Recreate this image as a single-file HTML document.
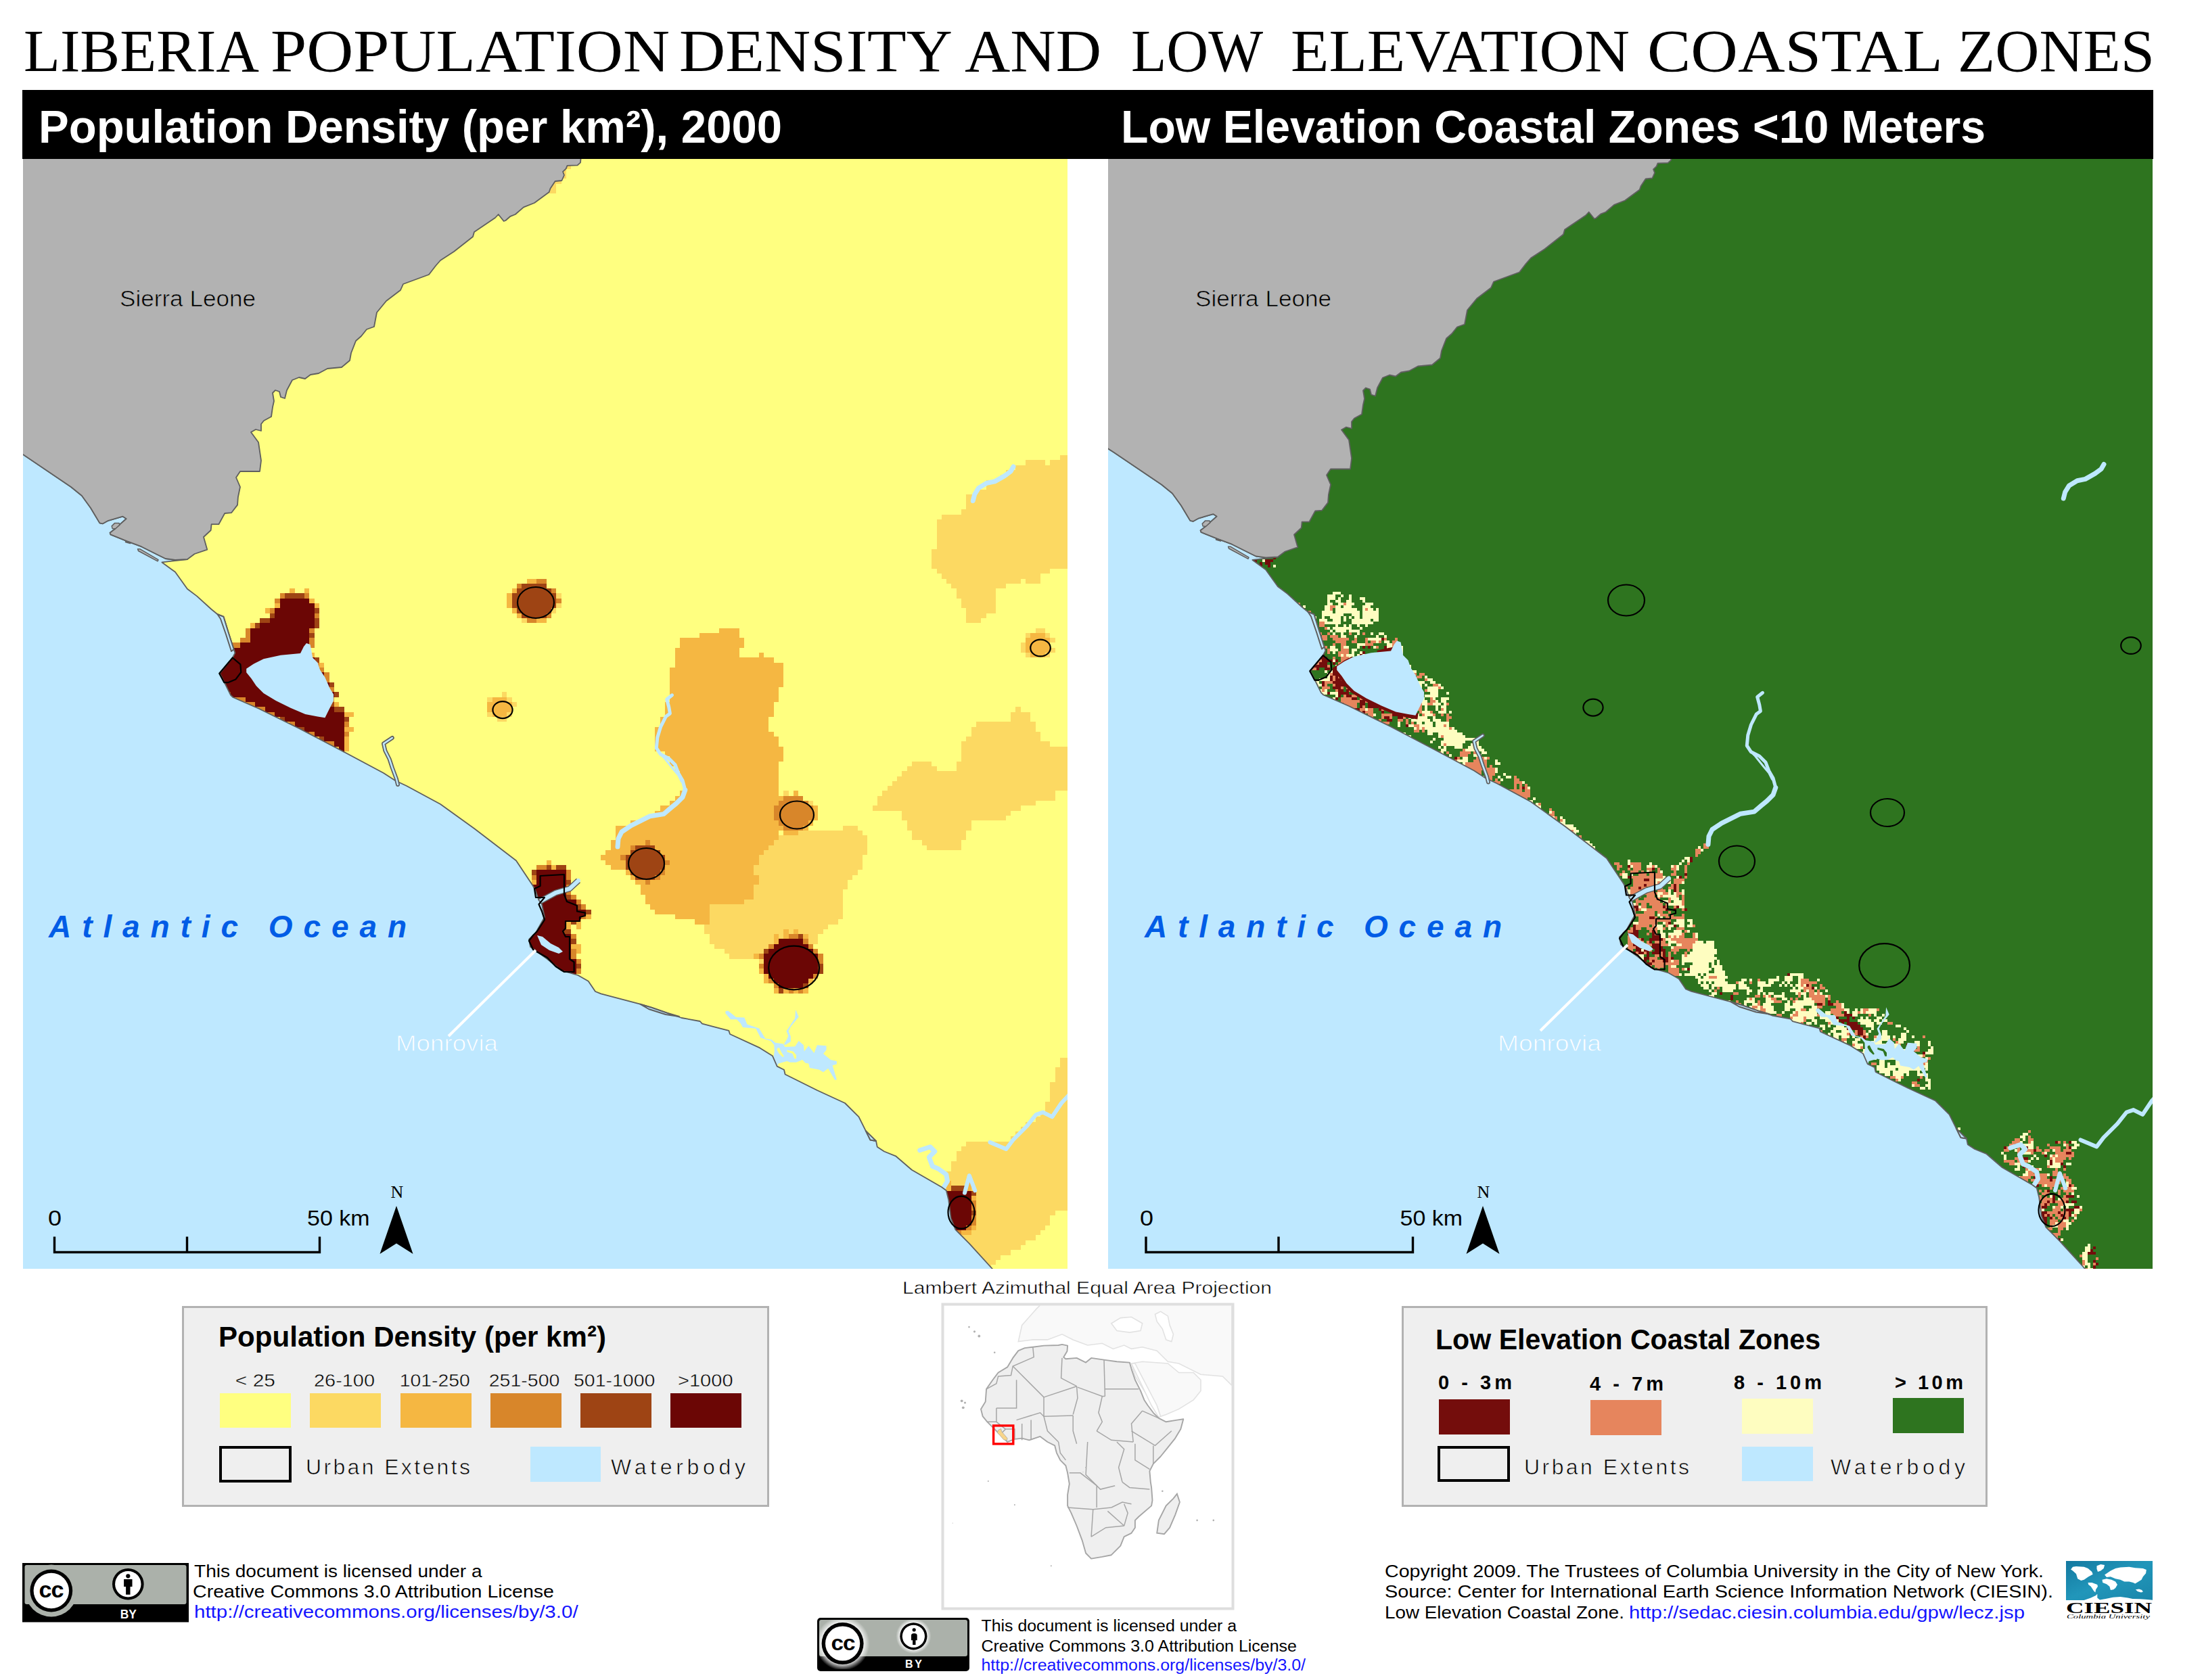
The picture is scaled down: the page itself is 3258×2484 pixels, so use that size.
<!DOCTYPE html><html><head><meta charset="utf-8"><style>html,body{margin:0;padding:0;background:#fff;overflow:hidden;width:3258px;height:2484px;}svg{display:block}</style></head><body>
<svg width="3258" height="2484" viewBox="0 0 3258 2484">
<rect width="3258" height="2484" fill="#fff"/>
<text x="35.0" y="105.0" font-family="Liberation Serif" font-size="88" font-weight="normal" font-style="normal" fill="#000" textLength="348.0" lengthAdjust="spacingAndGlyphs">LIBERIA</text>
<text x="400.0" y="105.0" font-family="Liberation Serif" font-size="88" font-weight="normal" font-style="normal" fill="#000" textLength="590.0" lengthAdjust="spacingAndGlyphs">POPULATION</text>
<text x="1004.0" y="105.0" font-family="Liberation Serif" font-size="88" font-weight="normal" font-style="normal" fill="#000" textLength="404.0" lengthAdjust="spacingAndGlyphs">DENSITY</text>
<text x="1426.0" y="105.0" font-family="Liberation Serif" font-size="88" font-weight="normal" font-style="normal" fill="#000" textLength="202.0" lengthAdjust="spacingAndGlyphs">AND</text>
<text x="1672.0" y="105.0" font-family="Liberation Serif" font-size="88" font-weight="normal" font-style="normal" fill="#000" textLength="195.0" lengthAdjust="spacingAndGlyphs">LOW</text>
<text x="1908.0" y="105.0" font-family="Liberation Serif" font-size="88" font-weight="normal" font-style="normal" fill="#000" textLength="501.0" lengthAdjust="spacingAndGlyphs">ELEVATION</text>
<text x="2435.0" y="105.0" font-family="Liberation Serif" font-size="88" font-weight="normal" font-style="normal" fill="#000" textLength="437.0" lengthAdjust="spacingAndGlyphs">COASTAL</text>
<text x="2894.0" y="105.0" font-family="Liberation Serif" font-size="88" font-weight="normal" font-style="normal" fill="#000" textLength="291.0" lengthAdjust="spacingAndGlyphs">ZONES</text>
<rect x="33" y="133" width="3150" height="102" fill="#000"/>
<text x="57.0" y="210.5" font-family="Liberation Sans" font-size="68" font-weight="bold" font-style="normal" fill="#fff" textLength="1099.0" lengthAdjust="spacingAndGlyphs">Population Density (per km²), 2000</text>
<text x="1657.0" y="210.5" font-family="Liberation Sans" font-size="68" font-weight="bold" font-style="normal" fill="#fff" textLength="1278.0" lengthAdjust="spacingAndGlyphs">Low Elevation Coastal Zones &lt;10 Meters</text>
<defs><clipPath id="mc"><rect x="0" y="0" width="1544" height="1641"/></clipPath></defs>
<g transform="translate(34,235)" clip-path="url(#mc)">
<rect x="0" y="0" width="1544" height="1641" fill="#ffff80"/>
<path fill="#fcd962" shape-rendering="crispEdges" d="M795.7 7.3H810.3V14.6H795.7zM788.4 14.6H803.0V21.9H788.4zM788.4 21.9H803.0V29.2H788.4zM781.1 29.2H795.7V36.5H781.1zM781.1 36.5H788.4V43.8H781.1zM773.8 43.8H788.4V51.1H773.8zM1533.0 438.0H1554.9V445.3H1533.0zM1481.9 445.3H1511.1V452.6H1481.9zM1518.4 445.3H1554.9V452.6H1518.4zM1467.3 452.6H1554.9V459.9H1467.3zM1452.7 459.9H1554.9V467.2H1452.7zM1445.4 467.2H1554.9V474.5H1445.4zM1423.5 474.5H1554.9V481.8H1423.5zM1423.5 481.8H1554.9V489.1H1423.5zM1408.9 489.1H1554.9V496.4H1408.9zM1394.3 496.4H1554.9V503.7H1394.3zM1394.3 503.7H1554.9V511.0H1394.3zM1394.3 511.0H1554.9V518.3H1394.3zM1387.0 518.3H1554.9V525.6H1387.0zM1357.8 525.6H1554.9V532.9H1357.8zM1350.5 532.9H1554.9V540.2H1350.5zM1350.5 540.2H1554.9V547.5H1350.5zM1350.5 547.5H1554.9V554.8H1350.5zM1350.5 554.8H1554.9V562.1H1350.5zM1350.5 562.1H1554.9V569.4H1350.5zM1350.5 569.4H1554.9V576.7H1350.5zM1343.2 576.7H1554.9V584.0H1343.2zM1343.2 584.0H1554.9V591.3H1343.2zM1343.2 591.3H1554.9V598.6H1343.2zM1343.2 598.6H1554.9V605.9H1343.2zM1350.5 605.9H1518.4V613.2H1350.5zM1357.8 613.2H1503.8V620.5H1357.8zM1365.1 620.5H1474.6V627.8H1365.1zM1481.9 620.5H1503.8V627.8H1481.9zM1372.4 627.8H1452.7V635.1H1372.4zM1379.7 635.1H1438.1V642.4H1379.7zM788.4 642.4H795.7V649.7H788.4zM1379.7 642.4H1438.1V649.7H1379.7zM1387.0 649.7H1438.1V657.0H1387.0zM788.4 657.0H795.7V664.3H788.4zM1387.0 657.0H1438.1V664.3H1387.0zM781.1 664.3H788.4V671.6H781.1zM1394.3 664.3H1438.1V671.6H1394.3zM1394.3 671.6H1423.5V678.9H1394.3zM737.3 678.9H744.6V686.2H737.3zM1394.3 678.9H1416.2V686.2H1394.3zM1496.5 693.5H1511.1V700.8H1496.5zM1481.9 700.8H1489.2V708.1H1481.9zM1511.1 700.8H1518.4V708.1H1511.1zM1518.4 708.1H1525.7V715.4H1518.4zM1474.6 715.4H1481.9V722.7H1474.6zM1474.6 722.7H1481.9V730.0H1474.6zM1518.4 722.7H1525.7V730.0H1518.4zM1481.9 730.0H1489.2V737.3H1481.9zM1511.1 730.0H1518.4V737.3H1511.1zM284.7 766.5H292.0V773.8H284.7zM708.1 788.4H715.4V795.7H708.1zM306.6 795.7H313.9V803.0H306.6zM686.2 795.7H693.5V803.0H686.2zM715.4 795.7H722.7V803.0H715.4zM722.7 803.0H730.0V810.3H722.7zM1467.3 810.3H1474.6V817.6H1467.3zM686.2 817.6H693.5V824.9H686.2zM715.4 817.6H722.7V824.9H715.4zM1460.0 817.6H1489.2V824.9H1460.0zM700.8 824.9H715.4V832.2H700.8zM1460.0 824.9H1489.2V832.2H1460.0zM1408.9 832.2H1496.5V839.5H1408.9zM1401.6 839.5H1496.5V846.8H1401.6zM1401.6 846.8H1503.8V854.1H1401.6zM1394.3 854.1H1503.8V861.4H1394.3zM1387.0 861.4H1518.4V868.7H1387.0zM1387.0 868.7H1554.9V876.0H1387.0zM1387.0 876.0H1554.9V883.3H1387.0zM1387.0 883.3H1554.9V890.6H1387.0zM1314.0 890.6H1343.2V897.9H1314.0zM1379.7 890.6H1554.9V897.9H1379.7zM1306.7 897.9H1350.5V905.2H1306.7zM1379.7 897.9H1554.9V905.2H1379.7zM1299.4 905.2H1554.9V912.5H1299.4zM1292.1 912.5H1554.9V919.8H1292.1zM1284.8 919.8H1554.9V927.1H1284.8zM1277.5 927.1H1554.9V934.4H1277.5zM1124.2 934.4H1131.5V941.7H1124.2zM1270.2 934.4H1525.7V941.7H1270.2zM1262.9 941.7H1525.7V949.0H1262.9zM1160.7 949.0H1168.0V956.3H1160.7zM1262.9 949.0H1496.5V956.3H1262.9zM1255.6 956.3H1474.6V963.6H1255.6zM1299.4 963.6H1460.0V970.9H1299.4zM1299.4 970.9H1452.7V978.2H1299.4zM1306.7 978.2H1401.6V985.5H1306.7zM1211.8 985.5H1233.7V992.8H1211.8zM1306.7 985.5H1401.6V992.8H1306.7zM1146.1 992.8H1241.0V1000.1H1146.1zM1314.0 992.8H1394.3V1000.1H1314.0zM1116.9 1000.1H1248.3V1007.4H1116.9zM1314.0 1000.1H1394.3V1007.4H1314.0zM1109.6 1007.4H1248.3V1014.7H1109.6zM1328.6 1007.4H1387.0V1014.7H1328.6zM1102.3 1014.7H1248.3V1022.0H1102.3zM1335.9 1014.7H1387.0V1022.0H1335.9zM1095.0 1022.0H1248.3V1029.3H1095.0zM1087.7 1029.3H1241.0V1036.6H1087.7zM1087.7 1036.6H1241.0V1043.9H1087.7zM1080.4 1043.9H1241.0V1051.2H1080.4zM1080.4 1051.2H1233.7V1058.5H1080.4zM1087.7 1058.5H1226.4V1065.8H1087.7zM1087.7 1065.8H1219.1V1073.1H1087.7zM1080.4 1073.1H1219.1V1080.4H1080.4zM1080.4 1080.4H1211.8V1087.7H1080.4zM1080.4 1087.7H1211.8V1095.0H1080.4zM1065.8 1095.0H1211.8V1102.3H1065.8zM1014.7 1102.3H1211.8V1109.6H1014.7zM1014.7 1109.6H1211.8V1116.9H1014.7zM759.2 1116.9H766.5V1124.2H759.2zM1014.7 1116.9H1211.8V1124.2H1014.7zM1014.7 1124.2H1204.5V1131.5H1014.7zM1007.4 1131.5H1189.9V1138.8H1007.4zM1007.4 1138.8H1124.2V1146.1H1007.4zM1131.5 1138.8H1138.8V1146.1H1131.5zM1146.1 1138.8H1182.6V1146.1H1146.1zM1014.7 1146.1H1109.6V1153.4H1014.7zM1116.9 1146.1H1124.2V1153.4H1116.9zM1160.7 1146.1H1175.3V1153.4H1160.7zM1014.7 1153.4H1109.6V1160.7H1014.7zM1160.7 1153.4H1175.3V1160.7H1160.7zM1022.0 1160.7H1102.3V1168.0H1022.0zM1036.6 1168.0H1095.0V1175.3H1036.6zM1043.9 1175.3H1080.4V1182.6H1043.9zM1087.7 1182.6H1095.0V1189.9H1087.7zM781.1 1197.2H788.4V1204.5H781.1zM810.3 1204.5H817.6V1211.8H810.3zM1533.0 1328.6H1554.9V1335.9H1533.0zM1533.0 1335.9H1554.9V1343.2H1533.0zM1525.7 1343.2H1554.9V1350.5H1525.7zM1525.7 1350.5H1554.9V1357.8H1525.7zM1525.7 1357.8H1554.9V1365.1H1525.7zM1518.4 1365.1H1554.9V1372.4H1518.4zM1518.4 1372.4H1554.9V1379.7H1518.4zM1518.4 1379.7H1554.9V1387.0H1518.4zM1518.4 1387.0H1554.9V1394.3H1518.4zM1511.1 1394.3H1554.9V1401.6H1511.1zM1511.1 1401.6H1554.9V1408.9H1511.1zM1503.8 1408.9H1554.9V1416.2H1503.8zM1496.5 1416.2H1554.9V1423.5H1496.5zM1481.9 1423.5H1554.9V1430.8H1481.9zM1474.6 1430.8H1554.9V1438.1H1474.6zM1467.3 1438.1H1554.9V1445.4H1467.3zM1460.0 1445.4H1554.9V1452.7H1460.0zM1394.3 1452.7H1554.9V1460.0H1394.3zM1387.0 1460.0H1554.9V1467.3H1387.0zM1379.7 1467.3H1554.9V1474.6H1379.7zM1379.7 1474.6H1554.9V1481.9H1379.7zM1372.4 1481.9H1554.9V1489.2H1372.4zM1372.4 1489.2H1554.9V1496.5H1372.4zM1365.1 1496.5H1554.9V1503.8H1365.1zM1365.1 1503.8H1554.9V1511.1H1365.1zM1372.4 1511.1H1394.3V1518.4H1372.4zM1401.6 1511.1H1554.9V1518.4H1401.6zM1357.8 1518.4H1365.1V1525.7H1357.8zM1401.6 1518.4H1554.9V1525.7H1401.6zM1408.9 1525.7H1554.9V1533.0H1408.9zM1408.9 1533.0H1554.9V1540.3H1408.9zM1408.9 1540.3H1554.9V1547.6H1408.9zM1408.9 1547.6H1554.9V1554.9H1408.9zM1408.9 1554.9H1525.7V1562.2H1408.9zM1408.9 1562.2H1518.4V1569.5H1408.9zM1408.9 1569.5H1518.4V1576.8H1408.9zM1408.9 1576.8H1511.1V1584.1H1408.9zM1401.6 1584.1H1503.8V1591.4H1401.6zM1387.0 1591.4H1496.5V1598.7H1387.0zM1394.3 1598.7H1481.9V1606.0H1394.3zM1401.6 1606.0H1474.6V1613.3H1401.6zM1408.9 1613.3H1460.0V1620.6H1408.9zM1408.9 1620.6H1445.4V1627.9H1408.9zM1416.2 1627.9H1438.1V1635.2H1416.2zM1423.5 1635.2H1430.8V1642.5H1423.5z"/>
<path fill="#f5b742" shape-rendering="crispEdges" d="M744.6 620.5H759.2V627.8H744.6zM394.2 635.1H401.5V642.4H394.2zM416.1 635.1H423.4V642.4H416.1zM722.7 635.1H730.0V642.4H722.7zM715.4 642.4H722.7V649.7H715.4zM423.4 649.7H430.7V657.0H423.4zM715.4 649.7H722.7V657.0H715.4zM372.3 657.0H379.6V664.3H372.3zM430.7 657.0H438.0V664.3H430.7zM715.4 657.0H722.7V664.3H715.4zM357.7 664.3H365.0V671.6H357.7zM722.7 664.3H730.0V671.6H722.7zM730.0 671.6H737.3V678.9H730.0zM759.2 678.9H773.8V686.2H759.2zM335.8 686.2H343.1V693.5H335.8zM1029.3 693.5H1058.5V700.8H1029.3zM1000.1 700.8H1058.5V708.1H1000.1zM1489.2 700.8H1511.1V708.1H1489.2zM970.9 708.1H1065.8V715.4H970.9zM1481.9 708.1H1518.4V715.4H1481.9zM292.0 715.4H299.3V722.7H292.0zM970.9 715.4H1065.8V722.7H970.9zM1481.9 715.4H1518.4V722.7H1481.9zM416.1 722.7H423.4V730.0H416.1zM963.6 722.7H1058.5V730.0H963.6zM1481.9 722.7H1518.4V730.0H1481.9zM423.4 730.0H430.7V737.3H423.4zM963.6 730.0H1058.5V737.3H963.6zM1087.7 730.0H1095.0V737.3H1087.7zM1489.2 730.0H1511.1V737.3H1489.2zM963.6 737.3H1109.6V744.6H963.6zM270.1 744.6H277.4V751.9H270.1zM438.0 744.6H445.3V751.9H438.0zM963.6 744.6H1124.2V751.9H963.6zM956.3 751.9H1124.2V759.2H956.3zM956.3 759.2H1124.2V766.5H956.3zM956.3 766.5H1124.2V773.8H956.3zM956.3 773.8H1124.2V781.1H956.3zM956.3 781.1H1116.9V788.4H956.3zM956.3 788.4H1116.9V795.7H956.3zM693.5 795.7H715.4V803.0H693.5zM956.3 795.7H1116.9V803.0H956.3zM313.9 803.0H321.2V810.3H313.9zM459.9 803.0H467.2V810.3H459.9zM686.2 803.0H722.7V810.3H686.2zM949.0 803.0H1109.6V810.3H949.0zM328.5 810.3H343.1V817.6H328.5zM686.2 810.3H722.7V817.6H686.2zM949.0 810.3H1109.6V817.6H949.0zM474.5 817.6H489.1V824.9H474.5zM693.5 817.6H715.4V824.9H693.5zM949.0 817.6H1109.6V824.9H949.0zM372.3 824.9H379.6V832.2H372.3zM941.7 824.9H1102.3V832.2H941.7zM386.9 832.2H394.2V839.5H386.9zM941.7 832.2H1102.3V839.5H941.7zM386.9 839.5H401.5V846.8H386.9zM474.5 839.5H489.1V846.8H474.5zM934.4 839.5H1102.3V846.8H934.4zM934.4 846.8H1109.6V854.1H934.4zM430.7 854.1H438.0V861.4H430.7zM474.5 854.1H481.8V861.4H474.5zM934.4 854.1H1116.9V861.4H934.4zM430.7 861.4H438.0V868.7H430.7zM474.5 861.4H481.8V868.7H474.5zM934.4 861.4H1116.9V868.7H934.4zM459.9 868.7H467.2V876.0H459.9zM474.5 868.7H481.8V876.0H474.5zM934.4 868.7H1124.2V876.0H934.4zM459.9 876.0H467.2V883.3H459.9zM949.0 876.0H1124.2V883.3H949.0zM467.2 883.3H474.5V890.6H467.2zM956.3 883.3H1124.2V890.6H956.3zM956.3 890.6H1116.9V897.9H956.3zM963.6 897.9H1116.9V905.2H963.6zM970.9 905.2H1116.9V912.5H970.9zM970.9 912.5H1116.9V919.8H970.9zM978.2 919.8H1116.9V927.1H978.2zM978.2 927.1H1116.9V934.4H978.2zM970.9 934.4H1116.9V941.7H970.9zM1138.8 934.4H1146.1V941.7H1138.8zM963.6 941.7H1124.2V949.0H963.6zM956.3 949.0H1116.9V956.3H956.3zM941.7 956.3H1109.6V963.6H941.7zM1168.0 956.3H1175.3V963.6H1168.0zM934.4 963.6H1109.6V970.9H934.4zM1168.0 963.6H1175.3V970.9H1168.0zM919.8 970.9H1109.6V978.2H919.8zM1168.0 970.9H1175.3V978.2H1168.0zM897.9 978.2H1116.9V985.5H897.9zM1160.7 978.2H1168.0V985.5H1160.7zM876.0 985.5H1124.2V992.8H876.0zM1153.4 985.5H1160.7V992.8H1153.4zM876.0 992.8H1116.9V1000.1H876.0zM1124.2 992.8H1146.1V1000.1H1124.2zM876.0 1000.1H1116.9V1007.4H876.0zM868.7 1007.4H919.8V1014.7H868.7zM927.1 1007.4H1109.6V1014.7H927.1zM868.7 1014.7H897.9V1022.0H868.7zM934.4 1014.7H1102.3V1022.0H934.4zM861.4 1022.0H897.9V1029.3H861.4zM941.7 1022.0H1095.0V1029.3H941.7zM854.1 1029.3H883.3V1036.6H854.1zM949.0 1029.3H1087.7V1036.6H949.0zM773.8 1036.6H781.1V1043.9H773.8zM861.4 1036.6H890.6V1043.9H861.4zM956.3 1036.6H1087.7V1043.9H956.3zM781.1 1043.9H788.4V1051.2H781.1zM868.7 1043.9H890.6V1051.2H868.7zM949.0 1043.9H1080.4V1051.2H949.0zM890.6 1051.2H897.9V1058.5H890.6zM949.0 1051.2H1080.4V1058.5H949.0zM897.9 1058.5H905.2V1065.8H897.9zM941.7 1058.5H1087.7V1065.8H941.7zM751.9 1065.8H759.2V1073.1H751.9zM905.2 1065.8H919.8V1073.1H905.2zM927.1 1065.8H1087.7V1073.1H927.1zM912.5 1073.1H1080.4V1080.4H912.5zM912.5 1080.4H1080.4V1087.7H912.5zM737.3 1087.7H751.9V1095.0H737.3zM919.8 1087.7H1080.4V1095.0H919.8zM737.3 1095.0H744.6V1102.3H737.3zM919.8 1095.0H1065.8V1102.3H919.8zM927.1 1102.3H1014.7V1109.6H927.1zM934.4 1109.6H1014.7V1116.9H934.4zM832.2 1116.9H839.5V1124.2H832.2zM963.6 1116.9H1014.7V1124.2H963.6zM744.6 1124.2H751.9V1131.5H744.6zM803.0 1124.2H810.3V1131.5H803.0zM817.6 1124.2H824.9V1131.5H817.6zM992.8 1124.2H1014.7V1131.5H992.8zM803.0 1131.5H810.3V1138.8H803.0zM817.6 1131.5H824.9V1138.8H817.6zM1124.2 1138.8H1131.5V1146.1H1124.2zM1138.8 1138.8H1146.1V1146.1H1138.8zM1109.6 1146.1H1116.9V1153.4H1109.6zM1124.2 1146.1H1131.5V1153.4H1124.2zM1153.4 1146.1H1160.7V1153.4H1153.4zM1109.6 1153.4H1116.9V1160.7H1109.6zM810.3 1160.7H824.9V1168.0H810.3zM817.6 1168.0H824.9V1175.3H817.6zM1080.4 1175.3H1087.7V1182.6H1080.4zM1087.7 1197.2H1095.0V1204.5H1087.7zM795.7 1204.5H803.0V1211.8H795.7zM1095.0 1204.5H1102.3V1211.8H1095.0zM1095.0 1211.8H1102.3V1219.1H1095.0zM1160.7 1211.8H1168.0V1219.1H1160.7zM1109.6 1226.4H1116.9V1233.7H1109.6zM1124.2 1226.4H1131.5V1233.7H1124.2zM1138.8 1226.4H1146.1V1233.7H1138.8zM1153.4 1226.4H1160.7V1233.7H1153.4zM1365.1 1511.1H1372.4V1518.4H1365.1zM1394.3 1511.1H1401.6V1518.4H1394.3zM1365.1 1518.4H1372.4V1525.7H1365.1zM1394.3 1518.4H1401.6V1525.7H1394.3zM1350.5 1525.7H1357.8V1533.0H1350.5zM1401.6 1533.0H1408.9V1540.3H1401.6zM1350.5 1554.9H1357.8V1562.2H1350.5zM1357.8 1569.5H1365.1V1576.8H1357.8zM1401.6 1576.8H1408.9V1584.1H1401.6zM1387.0 1584.1H1401.6V1591.4H1387.0zM1379.7 1591.4H1387.0V1598.7H1379.7z"/>
<path fill="#d8862a" shape-rendering="crispEdges" d="M759.2 620.5H773.8V627.8H759.2zM730.0 627.8H737.3V635.1H730.0zM781.1 635.1H788.4V642.4H781.1zM379.6 642.4H386.9V649.7H379.6zM416.1 642.4H423.4V649.7H416.1zM372.3 649.7H379.6V657.0H372.3zM788.4 649.7H795.7V657.0H788.4zM365.0 664.3H372.3V671.6H365.0zM430.7 671.6H438.0V678.9H430.7zM773.8 671.6H781.1V678.9H773.8zM744.6 678.9H759.2V686.2H744.6zM328.5 693.5H335.8V700.8H328.5zM423.4 693.5H430.7V700.8H423.4zM328.5 700.8H335.8V708.1H328.5zM321.2 708.1H335.8V715.4H321.2zM423.4 708.1H430.7V715.4H423.4zM306.6 715.4H321.2V722.7H306.6zM423.4 715.4H430.7V722.7H423.4zM284.7 730.0H292.0V737.3H284.7zM430.7 744.6H438.0V751.9H430.7zM277.4 751.9H284.7V759.2H277.4zM438.0 751.9H445.3V759.2H438.0zM445.3 759.2H452.6V766.5H445.3zM445.3 766.5H452.6V773.8H445.3zM292.0 773.8H299.3V781.1H292.0zM292.0 781.1H299.3V788.4H292.0zM452.6 781.1H459.9V788.4H452.6zM313.9 795.7H328.5V803.0H313.9zM452.6 795.7H459.9V803.0H452.6zM328.5 803.0H343.1V810.3H328.5zM343.1 810.3H357.7V817.6H343.1zM357.7 817.6H372.3V824.9H357.7zM394.2 832.2H401.5V839.5H394.2zM474.5 832.2H481.8V839.5H474.5zM423.4 846.8H430.7V854.1H423.4zM474.5 846.8H481.8V854.1H474.5zM445.3 861.4H459.9V868.7H445.3zM467.2 876.0H474.5V883.3H467.2zM1124.2 941.7H1153.4V949.0H1124.2zM1116.9 949.0H1160.7V956.3H1116.9zM1109.6 956.3H1168.0V963.6H1109.6zM1109.6 963.6H1168.0V970.9H1109.6zM1109.6 970.9H1168.0V978.2H1109.6zM1116.9 978.2H1160.7V985.5H1116.9zM1124.2 985.5H1153.4V992.8H1124.2zM919.8 1007.4H927.1V1014.7H919.8zM897.9 1014.7H905.2V1022.0H897.9zM883.3 1029.3H890.6V1036.6H883.3zM949.0 1036.6H956.3V1043.9H949.0zM759.2 1043.9H773.8V1051.2H759.2zM803.0 1051.2H810.3V1058.5H803.0zM941.7 1051.2H949.0V1058.5H941.7zM751.9 1058.5H759.2V1065.8H751.9zM803.0 1058.5H810.3V1065.8H803.0zM934.4 1058.5H941.7V1065.8H934.4zM919.8 1065.8H927.1V1073.1H919.8zM744.6 1073.1H751.9V1080.4H744.6zM803.0 1073.1H810.3V1080.4H803.0zM744.6 1080.4H751.9V1087.7H744.6zM803.0 1080.4H810.3V1087.7H803.0zM810.3 1087.7H817.6V1095.0H810.3zM817.6 1095.0H824.9V1102.3H817.6zM751.9 1102.3H759.2V1109.6H751.9zM824.9 1102.3H832.2V1109.6H824.9zM824.9 1116.9H832.2V1124.2H824.9zM744.6 1131.5H751.9V1138.8H744.6zM737.3 1138.8H744.6V1146.1H737.3zM730.0 1146.1H737.3V1153.4H730.0zM810.3 1146.1H817.6V1153.4H810.3zM1131.5 1146.1H1146.1V1153.4H1131.5zM1153.4 1153.4H1160.7V1160.7H1153.4zM1102.3 1160.7H1109.6V1168.0H1102.3zM1160.7 1160.7H1168.0V1168.0H1160.7zM744.6 1168.0H751.9V1175.3H744.6zM810.3 1168.0H817.6V1175.3H810.3zM1168.0 1168.0H1175.3V1175.3H1168.0zM810.3 1175.3H817.6V1182.6H810.3zM1087.7 1175.3H1095.0V1182.6H1087.7zM1175.3 1175.3H1182.6V1182.6H1175.3zM766.5 1182.6H773.8V1189.9H766.5zM817.6 1182.6H824.9V1189.9H817.6zM1175.3 1182.6H1182.6V1189.9H1175.3zM773.8 1189.9H781.1V1197.2H773.8zM1087.7 1189.9H1095.0V1197.2H1087.7zM788.4 1197.2H795.7V1204.5H788.4zM817.6 1197.2H824.9V1204.5H817.6zM1168.0 1204.5H1175.3V1211.8H1168.0zM1102.3 1211.8H1109.6V1219.1H1102.3zM1109.6 1219.1H1116.9V1226.4H1109.6zM1131.5 1226.4H1138.8V1233.7H1131.5zM1146.1 1226.4H1153.4V1233.7H1146.1zM1357.8 1525.7H1365.1V1533.0H1357.8zM1401.6 1540.3H1408.9V1547.6H1401.6zM1350.5 1547.6H1357.8V1554.9H1350.5zM1401.6 1547.6H1408.9V1554.9H1401.6zM1357.8 1562.2H1365.1V1569.5H1357.8zM1401.6 1562.2H1408.9V1569.5H1401.6zM1401.6 1569.5H1408.9V1576.8H1401.6zM1365.1 1576.8H1372.4V1584.1H1365.1zM1394.3 1576.8H1401.6V1584.1H1394.3zM1372.4 1584.1H1387.0V1591.4H1372.4z"/>
<path fill="#9e4414" shape-rendering="crispEdges" d="M737.3 627.8H773.8V635.1H737.3zM730.0 635.1H781.1V642.4H730.0zM386.9 642.4H416.1V649.7H386.9zM722.7 642.4H788.4V649.7H722.7zM722.7 649.7H788.4V657.0H722.7zM722.7 657.0H788.4V664.3H722.7zM430.7 664.3H438.0V671.6H430.7zM730.0 664.3H781.1V671.6H730.0zM365.0 671.6H372.3V678.9H365.0zM737.3 671.6H773.8V678.9H737.3zM350.4 678.9H365.0V686.2H350.4zM430.7 678.9H438.0V686.2H430.7zM343.1 686.2H350.4V693.5H343.1zM430.7 686.2H438.0V693.5H430.7zM423.4 700.8H430.7V708.1H423.4zM292.0 722.7H306.6V730.0H292.0zM284.7 737.3H292.0V744.6H284.7zM430.7 737.3H438.0V744.6H430.7zM277.4 744.6H284.7V751.9H277.4zM284.7 759.2H292.0V766.5H284.7zM452.6 773.8H459.9V781.1H452.6zM299.3 788.4H306.6V795.7H299.3zM459.9 788.4H467.2V795.7H459.9zM452.6 803.0H459.9V810.3H452.6zM459.9 810.3H474.5V817.6H459.9zM379.6 824.9H386.9V832.2H379.6zM474.5 824.9H481.8V832.2H474.5zM401.5 839.5H416.1V846.8H401.5zM416.1 846.8H423.4V854.1H416.1zM438.0 854.1H445.3V861.4H438.0zM905.2 1014.7H934.4V1022.0H905.2zM897.9 1022.0H941.7V1029.3H897.9zM890.6 1029.3H949.0V1036.6H890.6zM890.6 1036.6H949.0V1043.9H890.6zM773.8 1043.9H781.1V1051.2H773.8zM788.4 1043.9H803.0V1051.2H788.4zM890.6 1043.9H949.0V1051.2H890.6zM751.9 1051.2H759.2V1058.5H751.9zM897.9 1051.2H941.7V1058.5H897.9zM905.2 1058.5H934.4V1065.8H905.2zM803.0 1065.8H810.3V1073.1H803.0zM803.0 1087.7H810.3V1095.0H803.0zM744.6 1095.0H751.9V1102.3H744.6zM817.6 1102.3H824.9V1109.6H817.6zM759.2 1109.6H766.5V1116.9H759.2zM832.2 1109.6H839.5V1116.9H832.2zM751.9 1124.2H759.2V1131.5H751.9zM810.3 1124.2H817.6V1131.5H810.3zM795.7 1138.8H810.3V1146.1H795.7zM1146.1 1146.1H1153.4V1153.4H1146.1zM737.3 1153.4H744.6V1160.7H737.3zM810.3 1153.4H817.6V1160.7H810.3zM737.3 1160.7H744.6V1168.0H737.3zM751.9 1168.0H759.2V1175.3H751.9zM1095.0 1168.0H1102.3V1175.3H1095.0zM759.2 1175.3H766.5V1182.6H759.2zM817.6 1189.9H824.9V1197.2H817.6zM1175.3 1189.9H1182.6V1197.2H1175.3zM1175.3 1197.2H1182.6V1204.5H1175.3zM803.0 1204.5H810.3V1211.8H803.0zM1153.4 1219.1H1160.7V1226.4H1153.4zM1116.9 1226.4H1124.2V1233.7H1116.9zM1372.4 1518.4H1394.3V1525.7H1372.4zM1401.6 1525.7H1408.9V1533.0H1401.6zM1357.8 1533.0H1365.1V1540.3H1357.8zM1357.8 1540.3H1365.1V1547.6H1357.8zM1401.6 1554.9H1408.9V1562.2H1401.6z"/>
<path fill="#6b0605" shape-rendering="crispEdges" d="M379.6 649.7H423.4V657.0H379.6zM379.6 657.0H430.7V664.3H379.6zM372.3 664.3H430.7V671.6H372.3zM372.3 671.6H430.7V678.9H372.3zM365.0 678.9H430.7V686.2H365.0zM350.4 686.2H430.7V693.5H350.4zM335.8 693.5H423.4V700.8H335.8zM335.8 700.8H423.4V708.1H335.8zM335.8 708.1H423.4V715.4H335.8zM321.2 715.4H423.4V722.7H321.2zM306.6 722.7H416.1V730.0H306.6zM292.0 730.0H423.4V737.3H292.0zM292.0 737.3H430.7V744.6H292.0zM284.7 744.6H430.7V751.9H284.7zM284.7 751.9H438.0V759.2H284.7zM292.0 759.2H445.3V766.5H292.0zM292.0 766.5H445.3V773.8H292.0zM299.3 773.8H452.6V781.1H299.3zM299.3 781.1H452.6V788.4H299.3zM306.6 788.4H459.9V795.7H306.6zM328.5 795.7H452.6V803.0H328.5zM343.1 803.0H452.6V810.3H343.1zM357.7 810.3H459.9V817.6H357.7zM372.3 817.6H474.5V824.9H372.3zM386.9 824.9H474.5V832.2H386.9zM401.5 832.2H474.5V839.5H401.5zM416.1 839.5H474.5V846.8H416.1zM430.7 846.8H474.5V854.1H430.7zM445.3 854.1H474.5V861.4H445.3zM459.9 861.4H474.5V868.7H459.9zM467.2 868.7H474.5V876.0H467.2zM759.2 1051.2H803.0V1058.5H759.2zM759.2 1058.5H803.0V1065.8H759.2zM759.2 1065.8H803.0V1073.1H759.2zM751.9 1073.1H803.0V1080.4H751.9zM751.9 1080.4H803.0V1087.7H751.9zM751.9 1087.7H803.0V1095.0H751.9zM751.9 1095.0H817.6V1102.3H751.9zM759.2 1102.3H817.6V1109.6H759.2zM766.5 1109.6H832.2V1116.9H766.5zM766.5 1116.9H824.9V1124.2H766.5zM759.2 1124.2H803.0V1131.5H759.2zM751.9 1131.5H803.0V1138.8H751.9zM744.6 1138.8H795.7V1146.1H744.6zM737.3 1146.1H810.3V1153.4H737.3zM744.6 1153.4H810.3V1160.7H744.6zM1116.9 1153.4H1153.4V1160.7H1116.9zM744.6 1160.7H810.3V1168.0H744.6zM1109.6 1160.7H1160.7V1168.0H1109.6zM759.2 1168.0H810.3V1175.3H759.2zM1102.3 1168.0H1168.0V1175.3H1102.3zM766.5 1175.3H810.3V1182.6H766.5zM1095.0 1175.3H1175.3V1182.6H1095.0zM773.8 1182.6H817.6V1189.9H773.8zM1095.0 1182.6H1175.3V1189.9H1095.0zM781.1 1189.9H817.6V1197.2H781.1zM1095.0 1189.9H1175.3V1197.2H1095.0zM795.7 1197.2H817.6V1204.5H795.7zM1095.0 1197.2H1175.3V1204.5H1095.0zM1102.3 1204.5H1168.0V1211.8H1102.3zM1109.6 1211.8H1160.7V1219.1H1109.6zM1116.9 1219.1H1153.4V1226.4H1116.9zM1365.1 1525.7H1401.6V1533.0H1365.1zM1365.1 1533.0H1401.6V1540.3H1365.1zM1365.1 1540.3H1401.6V1547.6H1365.1zM1357.8 1547.6H1401.6V1554.9H1357.8zM1357.8 1554.9H1401.6V1562.2H1357.8zM1365.1 1562.2H1401.6V1569.5H1365.1zM1365.1 1569.5H1401.6V1576.8H1365.1zM1372.4 1576.8H1394.3V1584.1H1372.4z"/>
<polygon points="756.0,1079.0 764.6,1075.0 764.6,1060.0 800.0,1058.0 800.0,1087.5 804.0,1098.0 819.0,1104.0 819.0,1112.5 831.0,1114.6 831.0,1119.0 823.0,1121.0 823.0,1127.0 802.0,1127.0 802.0,1137.5 798.0,1142.0 802.0,1150.0 808.0,1150.0 808.0,1183.0 814.6,1187.5 814.6,1202.0 800.0,1202.0 787.5,1194.0 775.0,1181.0 754.0,1169.0 748.0,1156.0 754.0,1148.0 760.0,1142.0 771.0,1125.0 767.0,1112.5 762.5,1102.0 771.0,1092.0 758.0,1092.0" fill="#6b0605"/>
<polyline points="959.5,792.8 951.7,799.0 954.8,810.6 956.4,819.9 950.2,824.6 942.5,840.0 937.8,855.5 936.3,871.0 942.5,880.3 954.8,886.5 964.1,895.8 968.8,908.2 975.0,919.0 978.8,933.0" fill="none" stroke="#bee8ff" stroke-width="5" stroke-linejoin="round" stroke-linecap="round"/>
<polyline points="978.8,933.0 975.0,943.8 965.7,953.0 958.0,959.3 947.1,968.6 927.0,971.7 911.5,979.4 899.0,985.6 885.0,995.0 880.0,1005.0 879.0,1017.0" fill="none" stroke="#bee8ff" stroke-width="7" stroke-linejoin="round" stroke-linecap="round"/>
<polyline points="940.0,878.0 948.6,886.5 961.0,902.0 968.8,911.3 973.4,920.6" fill="none" stroke="#bee8ff" stroke-width="3" stroke-linejoin="round" stroke-linecap="round"/>
<polyline points="1464.0,455.0 1460.0,462.0 1451.0,468.6 1436.5,476.9 1424.6,479.3 1412.7,486.4 1406.7,496.0 1404.3,505.5" fill="none" stroke="#bee8ff" stroke-width="7" stroke-linejoin="round" stroke-linecap="round"/>
<polyline points="1429.5,1453.9 1453.3,1464.0 1463.5,1450.5 1484.0,1430.0 1497.5,1413.0 1507.7,1409.6 1521.3,1416.4 1535.0,1396.0 1550.0,1380.0" fill="none" stroke="#bee8ff" stroke-width="6" stroke-linejoin="round" stroke-linecap="round"/>
<polyline points="1325.7,1465.8 1341.0,1460.7 1347.8,1467.5 1339.3,1476.0 1344.4,1489.6 1352.9,1493.0 1364.8,1501.5 1366.5,1511.7 1360.0,1522.0" fill="none" stroke="#bee8ff" stroke-width="7" stroke-linejoin="round" stroke-linecap="round"/>
<polyline points="1392.0,1528.7 1398.8,1503.2 1407.3,1525.3" fill="none" stroke="#bee8ff" stroke-width="6" stroke-linejoin="round" stroke-linecap="round"/>
<polyline points="821.0,1067.0 808.0,1079.0 787.5,1085.0 771.0,1094.0 762.0,1099.0" fill="none" stroke="#5f5f5f" stroke-width="9" stroke-linejoin="round" stroke-linecap="butt"/>
<polyline points="821.0,1067.0 808.0,1079.0 787.5,1085.0 771.0,1094.0 762.0,1099.0" fill="none" stroke="#bee8ff" stroke-width="6" stroke-linejoin="round" stroke-linecap="round"/>
<polygon points="1038.7,1260.0 1042.3,1259.5 1054.1,1269.0 1066.4,1269.5 1070.4,1279.5 1088.1,1285.4 1097.2,1300.4 1106.7,1302.2 1112.2,1306.7 1124.0,1308.5 1126.3,1313.1 1141.2,1312.2 1146.7,1304.0 1153.9,1310.3 1154.8,1319.4 1161.2,1311.2 1169.4,1322.1 1173.9,1310.3 1187.5,1311.2 1187.5,1317.6 1183.0,1323.0 1193.9,1332.1 1202.9,1333.9 1202.9,1338.5 1196.6,1340.3 1202.9,1361.2 1200.2,1362.1 1190.2,1344.8 1183.0,1350.3 1176.6,1346.6 1163.0,1343.9 1161.2,1337.6 1156.6,1336.7 1152.1,1332.1 1143.0,1335.7 1134.0,1335.7 1129.4,1333.9 1116.7,1337.6 1114.0,1345.0 1108.0,1336.0 1110.8,1319.4 1110.4,1310.3 1105.4,1304.0 1097.7,1301.7 1090.4,1299.4 1083.2,1285.8 1064.1,1284.0 1060.5,1277.7 1055.0,1272.2 1046.0,1272.2 1038.2,1263.1" fill="#bee8ff"/>
<polygon points="1124.9,1308.5 1129.4,1301.3 1131.2,1296.7 1128.5,1289.5 1141.2,1270.4 1142.1,1257.7 1146.7,1268.6 1134.9,1283.1 1131.7,1289.5 1134.9,1297.6 1134.9,1304.9 1126.7,1310.3" fill="#bee8ff"/>
<polygon points="760.0,1148.0 768.0,1150.0 780.0,1160.0 792.0,1166.0 798.0,1172.0 792.0,1175.0 778.0,1170.0 766.0,1162.0" fill="#bee8ff"/>
<polygon points="330.2,753.7 341.1,746.5 355.6,739.2 381.0,733.8 410.0,731.0 415.0,721.0 419.0,716.0 424.6,718.0 428.2,737.4 435.5,744.7 439.1,755.5 446.4,766.5 453.6,782.8 459.1,791.8 459.1,800.9 453.6,811.8 446.4,826.3 435.5,824.5 417.3,820.9 395.6,811.8 373.8,800.9 355.6,790.0 344.7,779.1 337.5,768.2 330.2,759.2" fill="#bee8ff"/>
<polygon points="1114.9,1314.9 1117.7,1314.0 1120.4,1319.4 1124.9,1326.7 1123.1,1328.0 1117.7,1323.0 1114.5,1317.6" fill="#ffff80"/>
<polygon points="1129.4,1317.6 1138.5,1319.4 1143.0,1324.9 1143.0,1330.3 1140.3,1330.3 1137.6,1323.0 1129.4,1320.3" fill="#ffff80"/>
<polygon points="-30.0,418.0 0.0,437.0 71.0,485.0 87.0,498.0 100.0,516.0 113.4,538.4 117.9,539.3 126.0,534.8 147.3,528.6 152.7,532.0 138.4,544.6 135.7,547.3 128.6,552.7 129.5,555.4 153.6,565.2 175.0,573.2 200.0,585.7 210.7,591.0 225.0,592.9 242.9,592.0 205.4,596.4 225.0,610.7 242.9,635.7 257.0,646.4 278.6,666.0 287.5,673.2 296.4,676.8 303.6,700.0 311.6,725.0 313.4,730.4 309.8,737.5 291.0,760.7 298.2,775.0 307.0,792.9 310.4,796.0 348.0,812.5 408.0,842.0 471.0,875.0 533.0,908.0 550.0,919.0 567.0,927.0 617.0,954.0 667.0,990.0 729.0,1037.5 754.0,1075.0 758.0,1083.0 762.5,1096.0 767.0,1102.0 771.0,1121.0 758.0,1144.0 748.0,1154.0 750.0,1165.0 775.0,1183.0 796.0,1200.0 820.4,1207.0 835.7,1215.7 846.0,1231.0 854.4,1234.4 912.3,1249.7 929.3,1254.8 953.0,1263.0 973.5,1270.0 1000.7,1275.0 1004.0,1278.6 1022.9,1283.7 1043.3,1288.8 1045.0,1294.0 1089.2,1314.4 1108.0,1326.3 1114.7,1341.6 1125.0,1346.7 1126.6,1353.5 1174.3,1377.3 1215.0,1396.0 1235.5,1416.4 1245.7,1436.9 1252.5,1450.5 1261.0,1452.0 1262.7,1460.7 1273.0,1467.5 1290.0,1474.3 1313.8,1494.7 1358.0,1520.2 1364.8,1525.3 1368.2,1539.0 1371.6,1566.0 1378.4,1583.2 1398.8,1603.6 1432.9,1641.0 1450.0,1660.0 1450.0,1700.0 -30.0,1700.0" fill="#bee8ff" stroke="#5f5f5f" stroke-width="1.8" stroke-linejoin="round"/>
<polyline points="545.8,856.0 533.0,864.6 535.4,875.0 541.7,887.5 545.8,900.0 552.0,916.7 554.0,925.0" fill="none" stroke="#5f5f5f" stroke-width="6" stroke-linejoin="round" stroke-linecap="round"/>
<polyline points="545.8,856.0 533.0,864.6 535.4,875.0 541.7,887.5 545.8,900.0 552.0,916.7 554.0,925.0" fill="none" stroke="#bee8ff" stroke-width="2.5" stroke-linejoin="round" stroke-linecap="round"/>
<polygon points="287.5,673.2 296.4,676.8 303.6,700.0 311.6,725.0 308.0,728.0 300.0,703.0 292.0,680.0" fill="#bee8ff" stroke="#5f5f5f" stroke-width="2" stroke-linejoin="round"/>
<polygon points="912.3,1249.7 929.3,1254.8 953.0,1263.0 970.0,1268.0 950.0,1265.0 925.0,1257.0" fill="#bee8ff" stroke="#5f5f5f" stroke-width="2" stroke-linejoin="round"/>
<polygon points="1245.7,1436.9 1252.5,1450.5 1261.0,1452.0" fill="#bee8ff" stroke="#5f5f5f" stroke-width="2" stroke-linejoin="round"/>
<polygon points="-30.0,-30.0 824.5,-5.0 824.5,0.0 824.0,5.4 819.6,9.3 804.5,9.8 802.7,14.3 798.0,18.8 800.0,24.0 796.4,32.0 786.6,33.0 779.5,43.8 777.7,49.0 756.0,65.0 740.0,71.4 727.7,82.0 720.5,84.8 713.4,91.0 710.7,92.0 702.7,82.0 698.0,87.0 667.0,108.0 665.0,115.0 637.0,137.0 617.0,150.0 610.0,158.0 600.0,171.0 562.0,185.0 558.0,194.0 537.0,210.0 523.0,227.0 519.0,248.0 508.0,252.0 500.0,262.0 492.0,269.0 485.0,287.0 483.0,298.0 471.0,308.0 450.0,310.0 437.0,317.0 425.0,319.0 417.0,325.0 408.0,323.0 398.0,327.0 390.0,342.0 387.0,354.0 381.0,352.0 379.0,344.0 373.0,342.0 369.0,346.0 371.0,358.0 369.0,367.0 367.0,381.0 356.0,387.0 352.0,392.0 352.0,402.0 344.0,400.0 337.0,404.0 348.0,419.0 352.0,446.0 350.0,462.0 321.0,462.0 315.0,471.0 321.0,485.0 317.9,500.0 317.0,511.6 308.0,523.2 298.2,524.0 289.3,540.2 278.6,540.2 277.7,549.0 267.0,559.0 272.3,577.7 253.6,584.0 242.9,592.0 242.9,592.0 225.0,592.9 210.7,591.0 200.0,585.7 175.0,573.2 153.6,565.2 129.5,555.4 128.6,552.7 135.7,547.3 138.4,544.6 152.7,532.0 147.3,528.6 126.0,534.8 117.9,539.3 113.4,538.4 100.0,516.0 87.0,498.0 71.0,485.0 0.0,437.0 -30.0,418.0" fill="#b2b2b2" stroke="#5f5f5f" stroke-width="1.8" stroke-linejoin="round"/>
<polygon points="131.2,542.9 135.7,538.4 142.0,538.4 142.9,541.1 136.6,546.8 132.1,546.4" fill="#b2b2b2" stroke="#5f5f5f" stroke-width="1.5" stroke-linejoin="round"/>
<polygon points="169.6,576.8 173.2,576.8 200.0,592.6 199.1,594.8 170.5,579.5" fill="#b2b2b2" stroke="#5f5f5f" stroke-width="1.5" stroke-linejoin="round"/>
<polygon points="151.8,565.0 158.9,567.2 158.5,568.6 151.5,566.5" fill="#b2b2b2" stroke="#5f5f5f" stroke-width="1.5" stroke-linejoin="round"/>
<polygon points="756.0,1079.0 764.6,1075.0 764.6,1060.0 800.0,1058.0 800.0,1087.5 804.0,1098.0 819.0,1104.0 819.0,1112.5 831.0,1114.6 831.0,1119.0 823.0,1121.0 823.0,1127.0 802.0,1127.0 802.0,1137.5 798.0,1142.0 802.0,1150.0 808.0,1150.0 808.0,1183.0 814.6,1187.5 814.6,1202.0 800.0,1202.0 787.5,1194.0 775.0,1181.0 754.0,1169.0 748.0,1156.0 754.0,1148.0 760.0,1142.0 771.0,1125.0 767.0,1112.5 762.5,1102.0 771.0,1092.0 758.0,1092.0" fill="none" stroke="#000" stroke-width="2.2" stroke-linejoin="round"/>
<polygon points="309.8,737.5 321.4,747.3 322.3,759.0 314.3,769.6 303.6,774.1 297.3,774.1 290.2,760.7" fill="none" stroke="#000" stroke-width="2.2" stroke-linejoin="round"/>
<ellipse cx="1387" cy="1557.6" rx="19.5" ry="24" fill="none" stroke="#000" stroke-width="2.2"/>
<ellipse cx="758" cy="656" rx="27" ry="23" fill="none" stroke="#000" stroke-width="2.2"/>
<ellipse cx="709" cy="814.6" rx="14.6" ry="12.5" fill="none" stroke="#000" stroke-width="2.2"/>
<ellipse cx="921.5" cy="1042" rx="26.5" ry="23" fill="none" stroke="#000" stroke-width="2.2"/>
<ellipse cx="1144" cy="970" rx="25" ry="20.5" fill="none" stroke="#000" stroke-width="2.2"/>
<ellipse cx="1504" cy="723" rx="14.8" ry="12.4" fill="none" stroke="#000" stroke-width="2.2"/>
<ellipse cx="1139.6" cy="1196" rx="37.4" ry="32.3" fill="none" stroke="#000" stroke-width="2.2"/>
</g>
<g transform="translate(1638,235)" clip-path="url(#mc)">
<rect x="0" y="0" width="1544" height="1641" fill="#2e741f"/>
<path fill="#fefdc0" d="M228 592h4v4h-4zM244 600h4v4h-4zM332 640h12v4h-12zM324 644h12v4h-12zM344 644h4v4h-4zM356 644h4v4h-4zM260 648h4v4h-4zM324 648h12v4h-12zM340 648h4v4h-4zM356 648h4v4h-4zM372 648h8v4h-8zM324 652h4v4h-4zM336 652h8v4h-8zM352 652h8v4h-8zM376 652h4v4h-4zM260 656h4v4h-4zM324 656h8v4h-8zM340 656h8v4h-8zM352 656h12v4h-12zM380 656h12v4h-12zM260 660h4v4h-4zM288 660h4v4h-4zM320 660h8v4h-8zM336 660h8v4h-8zM348 660h12v4h-12zM376 660h12v4h-12zM260 664h4v4h-4zM268 664h12v4h-12zM284 664h4v4h-4zM320 664h8v4h-8zM336 664h32v4h-32zM376 664h4v4h-4zM384 664h8v4h-8zM396 664h4v4h-4zM268 668h4v4h-4zM280 668h4v4h-4zM316 668h16v4h-16zM336 668h36v4h-36zM376 668h24v4h-24zM260 672h16v4h-16zM316 672h32v4h-32zM360 672h12v4h-12zM376 672h24v4h-24zM260 676h12v4h-12zM304 676h4v4h-4zM316 676h4v4h-4zM328 676h16v4h-16zM348 676h4v4h-4zM356 676h4v4h-4zM364 676h8v4h-8zM376 676h24v4h-24zM264 680h4v4h-4zM280 680h4v4h-4zM312 680h12v4h-12zM332 680h12v4h-12zM348 680h4v4h-4zM360 680h28v4h-28zM392 680h8v4h-8zM260 684h8v4h-8zM276 684h8v4h-8zM296 684h4v4h-4zM320 684h24v4h-24zM360 684h32v4h-32zM280 688h4v4h-4zM292 688h4v4h-4zM336 688h4v4h-4zM348 688h4v4h-4zM356 688h4v4h-4zM368 688h4v4h-4zM380 688h4v4h-4zM280 692h4v4h-4zM292 692h4v4h-4zM324 692h4v4h-4zM332 692h28v4h-28zM372 692h4v4h-4zM264 696h4v4h-4zM272 696h16v4h-16zM296 696h4v4h-4zM308 696h4v4h-4zM328 696h4v4h-4zM336 696h16v4h-16zM356 696h16v4h-16zM260 700h20v4h-20zM284 700h8v4h-8zM300 700h12v4h-12zM332 700h4v4h-4zM344 700h4v4h-4zM368 700h4v4h-4zM388 700h4v4h-4zM400 700h8v4h-8zM264 704h4v4h-4zM272 704h12v4h-12zM288 704h4v4h-4zM296 704h4v4h-4zM304 704h8v4h-8zM344 704h8v4h-8zM364 704h4v4h-4zM396 704h4v4h-4zM408 704h4v4h-4zM268 708h16v4h-16zM292 708h4v4h-4zM312 708h4v4h-4zM384 708h20v4h-20zM264 712h12v4h-12zM296 712h8v4h-8zM396 712h4v4h-4zM408 712h8v4h-8zM260 716h12v4h-12zM368 716h12v4h-12zM412 716h8v4h-8zM260 720h4v4h-4zM280 720h4v4h-4zM300 720h4v4h-4zM328 720h8v4h-8zM348 720h8v4h-8zM368 720h4v4h-4zM392 720h4v4h-4zM412 720h8v4h-8zM428 720h8v4h-8zM264 724h4v4h-4zM280 724h20v4h-20zM304 724h4v4h-4zM328 724h12v4h-12zM360 724h8v4h-8zM432 724h4v4h-4zM264 728h8v4h-8zM276 728h8v4h-8zM288 728h4v4h-4zM316 728h4v4h-4zM332 728h4v4h-4zM360 728h4v4h-4zM372 728h4v4h-4zM412 728h8v4h-8zM428 728h8v4h-8zM264 732h8v4h-8zM276 732h4v4h-4zM284 732h8v4h-8zM344 732h4v4h-4zM352 732h12v4h-12zM368 732h4v4h-4zM376 732h4v4h-4zM396 732h8v4h-8zM408 732h4v4h-4zM420 732h4v4h-4zM264 736h4v4h-4zM276 736h16v4h-16zM304 736h4v4h-4zM356 736h4v4h-4zM380 736h4v4h-4zM388 736h4v4h-4zM404 736h4v4h-4zM412 736h8v4h-8zM264 740h4v4h-4zM272 740h20v4h-20zM332 740h4v4h-4zM356 740h4v4h-4zM380 740h4v4h-4zM388 740h4v4h-4zM280 744h4v4h-4zM288 744h4v4h-4zM296 744h8v4h-8zM360 744h4v4h-4zM388 744h4v4h-4zM436 744h8v4h-8zM276 748h4v4h-4zM292 748h12v4h-12zM336 748h4v4h-4zM384 748h16v4h-16zM404 748h4v4h-4zM436 748h4v4h-4zM444 748h4v4h-4zM276 752h4v4h-4zM296 752h4v4h-4zM348 752h4v4h-4zM364 752h12v4h-12zM380 752h28v4h-28zM424 752h4v4h-4zM444 752h4v4h-4zM272 756h8v4h-8zM292 756h4v4h-4zM320 756h4v4h-4zM328 756h4v4h-4zM348 756h8v4h-8zM364 756h12v4h-12zM380 756h8v4h-8zM396 756h12v4h-12zM416 756h12v4h-12zM432 756h4v4h-4zM440 756h16v4h-16zM276 760h4v4h-4zM324 760h4v4h-4zM348 760h4v4h-4zM356 760h8v4h-8zM376 760h4v4h-4zM388 760h4v4h-4zM404 760h24v4h-24zM436 760h12v4h-12zM272 764h4v4h-4zM288 764h4v4h-4zM324 764h4v4h-4zM352 764h12v4h-12zM372 764h4v4h-4zM404 764h36v4h-36zM468 764h4v4h-4zM288 768h8v4h-8zM312 768h16v4h-16zM352 768h4v4h-4zM360 768h16v4h-16zM388 768h4v4h-4zM396 768h36v4h-36zM436 768h4v4h-4zM448 768h8v4h-8zM472 768h8v4h-8zM288 772h4v4h-4zM296 772h16v4h-16zM356 772h12v4h-12zM400 772h12v4h-12zM420 772h8v4h-8zM432 772h20v4h-20zM456 772h12v4h-12zM476 772h8v4h-8zM288 776h4v4h-4zM300 776h16v4h-16zM360 776h4v4h-4zM372 776h8v4h-8zM424 776h4v4h-4zM444 776h8v4h-8zM456 776h8v4h-8zM468 776h4v4h-4zM488 776h4v4h-4zM284 780h4v4h-4zM304 780h8v4h-8zM368 780h16v4h-16zM412 780h4v4h-4zM424 780h4v4h-4zM432 780h8v4h-8zM448 780h8v4h-8zM460 780h4v4h-4zM472 780h16v4h-16zM492 780h4v4h-4zM268 784h8v4h-8zM280 784h4v4h-4zM304 784h12v4h-12zM320 784h4v4h-4zM372 784h8v4h-8zM408 784h16v4h-16zM428 784h4v4h-4zM436 784h4v4h-4zM448 784h8v4h-8zM472 784h16v4h-16zM268 788h16v4h-16zM308 788h16v4h-16zM328 788h12v4h-12zM376 788h4v4h-4zM408 788h16v4h-16zM428 788h8v4h-8zM448 788h4v4h-4zM460 788h4v4h-4zM476 788h12v4h-12zM500 788h4v4h-4zM276 792h8v4h-8zM288 792h8v4h-8zM336 792h4v4h-4zM392 792h4v4h-4zM408 792h8v4h-8zM420 792h12v4h-12zM444 792h4v4h-4zM456 792h8v4h-8zM468 792h20v4h-20zM276 796h12v4h-12zM296 796h8v4h-8zM332 796h4v4h-4zM396 796h16v4h-16zM420 796h16v4h-16zM464 796h4v4h-4zM480 796h4v4h-4zM492 796h12v4h-12zM284 800h8v4h-8zM296 800h16v4h-16zM412 800h4v4h-4zM420 800h16v4h-16zM460 800h12v4h-12zM484 800h4v4h-4zM492 800h8v4h-8zM292 804h12v4h-12zM328 804h4v4h-4zM416 804h12v4h-12zM452 804h4v4h-4zM464 804h8v4h-8zM480 804h12v4h-12zM496 804h4v4h-4zM292 808h8v4h-8zM320 808h4v4h-4zM344 808h4v4h-4zM424 808h4v4h-4zM468 808h4v4h-4zM484 808h4v4h-4zM492 808h8v4h-8zM296 812h4v4h-4zM304 812h16v4h-16zM324 812h8v4h-8zM344 812h4v4h-4zM380 812h4v4h-4zM468 812h4v4h-4zM484 812h4v4h-4zM496 812h4v4h-4zM304 816h8v4h-8zM324 816h12v4h-12zM340 816h4v4h-4zM464 816h12v4h-12zM488 816h12v4h-12zM504 816h4v4h-4zM304 820h4v4h-4zM324 820h8v4h-8zM336 820h12v4h-12zM392 820h4v4h-4zM456 820h4v4h-4zM468 820h12v4h-12zM312 824h4v4h-4zM344 824h8v4h-8zM444 824h4v4h-4zM452 824h20v4h-20zM480 824h4v4h-4zM344 828h4v4h-4zM360 828h4v4h-4zM448 828h28v4h-28zM480 828h12v4h-12zM332 832h4v4h-4zM348 832h4v4h-4zM356 832h12v4h-12zM384 832h8v4h-8zM428 832h4v4h-4zM456 832h8v4h-8zM468 832h12v4h-12zM484 832h20v4h-20zM340 836h8v4h-8zM356 836h12v4h-12zM396 836h12v4h-12zM428 836h4v4h-4zM444 836h8v4h-8zM460 836h20v4h-20zM484 836h12v4h-12zM500 836h4v4h-4zM356 840h12v4h-12zM392 840h20v4h-20zM452 840h4v4h-4zM460 840h4v4h-4zM468 840h36v4h-36zM508 840h4v4h-4zM360 844h8v4h-8zM392 844h16v4h-16zM472 844h44v4h-44zM368 848h4v4h-4zM380 848h4v4h-4zM388 848h4v4h-4zM396 848h12v4h-12zM436 848h4v4h-4zM472 848h8v4h-8zM488 848h36v4h-36zM376 852h4v4h-4zM388 852h16v4h-16zM440 852h8v4h-8zM488 852h4v4h-4zM496 852h32v4h-32zM420 856h8v4h-8zM436 856h4v4h-4zM444 856h4v4h-4zM480 856h4v4h-4zM496 856h52v4h-52zM404 860h4v4h-4zM412 860h4v4h-4zM420 860h12v4h-12zM440 860h16v4h-16zM476 860h4v4h-4zM492 860h36v4h-36zM540 860h8v4h-8zM404 864h8v4h-8zM420 864h4v4h-4zM448 864h8v4h-8zM492 864h4v4h-4zM500 864h24v4h-24zM536 864h4v4h-4zM544 864h4v4h-4zM448 868h12v4h-12zM464 868h4v4h-4zM488 868h4v4h-4zM496 868h4v4h-4zM512 868h12v4h-12zM532 868h20v4h-20zM448 872h12v4h-12zM472 872h4v4h-4zM492 872h8v4h-8zM528 872h28v4h-28zM452 876h4v4h-4zM476 876h4v4h-4zM484 876h4v4h-4zM492 876h4v4h-4zM544 876h4v4h-4zM552 876h8v4h-8zM456 880h8v4h-8zM484 880h4v4h-4zM504 880h4v4h-4zM540 880h12v4h-12zM456 884h8v4h-8zM488 884h4v4h-4zM524 884h8v4h-8zM556 884h4v4h-4zM452 888h12v4h-12zM492 888h4v4h-4zM500 888h4v4h-4zM508 888h4v4h-4zM516 888h16v4h-16zM572 888h4v4h-4zM456 892h4v4h-4zM476 892h4v4h-4zM492 892h24v4h-24zM524 892h4v4h-4zM572 892h8v4h-8zM496 896h12v4h-12zM512 896h4v4h-4zM552 896h4v4h-4zM496 900h4v4h-4zM508 900h8v4h-8zM520 900h8v4h-8zM572 900h4v4h-4zM520 904h8v4h-8zM572 904h4v4h-4zM520 908h4v4h-4zM528 908h8v4h-8zM544 908h4v4h-4zM584 908h4v4h-4zM532 912h4v4h-4zM552 912h4v4h-4zM576 912h4v4h-4zM588 912h8v4h-8zM580 916h4v4h-4zM612 920h4v4h-4zM524 924h8v4h-8zM544 924h12v4h-12zM564 924h4v4h-4zM532 928h20v4h-20zM564 928h12v4h-12zM620 928h4v4h-4zM540 932h8v4h-8zM556 932h4v4h-4zM568 932h4v4h-4zM548 936h8v4h-8zM560 936h8v4h-8zM588 936h4v4h-4zM552 940h4v4h-4zM568 940h4v4h-4zM588 940h12v4h-12zM568 944h4v4h-4zM576 944h8v4h-8zM588 944h12v4h-12zM628 944h4v4h-4zM580 948h4v4h-4zM592 948h12v4h-12zM616 948h12v4h-12zM576 952h24v4h-24zM616 952h12v4h-12zM632 952h4v4h-4zM588 956h36v4h-36zM632 956h8v4h-8zM588 960h12v4h-12zM608 960h12v4h-12zM632 960h8v4h-8zM592 964h4v4h-4zM628 964h8v4h-8zM652 964h4v4h-4zM600 968h4v4h-4zM620 968h16v4h-16zM648 968h4v4h-4zM608 972h4v4h-4zM620 972h8v4h-8zM632 972h28v4h-28zM668 972h4v4h-4zM616 976h4v4h-4zM624 976h32v4h-32zM672 976h4v4h-4zM624 980h32v4h-32zM664 980h12v4h-12zM640 984h4v4h-4zM648 984h8v4h-8zM664 984h24v4h-24zM648 988h8v4h-8zM676 988h16v4h-16zM648 992h8v4h-8zM660 992h4v4h-4zM680 992h4v4h-4zM688 992h8v4h-8zM648 996h4v4h-4zM660 996h4v4h-4zM688 996h4v4h-4zM660 1000h8v4h-8zM656 1004h12v4h-12zM692 1004h8v4h-8zM664 1008h4v4h-4zM692 1008h4v4h-4zM704 1008h8v4h-8zM692 1012h4v4h-4zM708 1012h8v4h-8zM676 1016h12v4h-12zM696 1016h12v4h-12zM716 1016h4v4h-4zM872 1016h4v4h-4zM692 1020h12v4h-12zM876 1020h4v4h-4zM712 1032h4v4h-4zM852 1032h8v4h-8zM716 1036h16v4h-16zM768 1036h4v4h-4zM848 1036h4v4h-4zM856 1036h4v4h-4zM716 1040h16v4h-16zM768 1040h4v4h-4zM800 1040h4v4h-4zM844 1040h4v4h-4zM740 1044h4v4h-4zM772 1044h4v4h-4zM796 1044h8v4h-8zM808 1044h4v4h-4zM832 1044h4v4h-4zM840 1044h4v4h-4zM728 1048h4v4h-4zM840 1048h4v4h-4zM728 1052h8v4h-8zM796 1052h4v4h-4zM816 1052h4v4h-4zM736 1056h4v4h-4zM760 1056h8v4h-8zM772 1056h4v4h-4zM760 1060h8v4h-8zM820 1060h4v4h-4zM840 1060h4v4h-4zM808 1064h24v4h-24zM808 1068h4v4h-4zM816 1068h4v4h-4zM824 1068h8v4h-8zM848 1068h4v4h-4zM812 1072h4v4h-4zM764 1080h8v4h-8zM828 1080h4v4h-4zM848 1080h4v4h-4zM768 1084h4v4h-4zM812 1084h8v4h-8zM828 1084h4v4h-4zM836 1084h4v4h-4zM848 1084h4v4h-4zM812 1088h4v4h-4zM820 1088h20v4h-20zM832 1092h12v4h-12zM820 1096h8v4h-8zM836 1096h12v4h-12zM776 1100h4v4h-4zM828 1100h20v4h-20zM784 1104h4v4h-4zM844 1104h8v4h-8zM788 1108h8v4h-8zM812 1116h4v4h-4zM816 1120h4v4h-4zM840 1124h12v4h-12zM856 1124h8v4h-8zM776 1128h8v4h-8zM820 1128h4v4h-4zM836 1128h16v4h-16zM860 1128h4v4h-4zM808 1132h12v4h-12zM828 1132h8v4h-8zM844 1132h8v4h-8zM856 1132h8v4h-8zM812 1136h8v4h-8zM828 1136h4v4h-4zM816 1140h4v4h-4zM836 1140h12v4h-12zM856 1140h4v4h-4zM816 1144h8v4h-8zM828 1144h20v4h-20zM868 1144h4v4h-4zM816 1148h8v4h-8zM832 1148h4v4h-4zM840 1148h4v4h-4zM868 1148h4v4h-4zM824 1152h8v4h-8zM828 1156h12v4h-12zM868 1156h12v4h-12zM884 1156h12v4h-12zM828 1160h4v4h-4zM840 1160h8v4h-8zM864 1160h32v4h-32zM832 1164h4v4h-4zM864 1164h32v4h-32zM788 1168h4v4h-4zM864 1168h36v4h-36zM860 1172h40v4h-40zM784 1176h8v4h-8zM848 1176h4v4h-4zM856 1176h40v4h-40zM784 1180h8v4h-8zM848 1180h52v4h-52zM832 1184h4v4h-4zM848 1184h48v4h-48zM900 1184h4v4h-4zM848 1188h4v4h-4zM864 1188h24v4h-24zM892 1188h4v4h-4zM900 1188h4v4h-4zM832 1192h8v4h-8zM860 1192h28v4h-28zM892 1192h16v4h-16zM852 1196h4v4h-4zM860 1196h32v4h-32zM896 1196h12v4h-12zM808 1200h4v4h-4zM860 1200h28v4h-28zM896 1200h16v4h-16zM808 1204h8v4h-8zM844 1204h4v4h-4zM852 1204h20v4h-20zM876 1204h4v4h-4zM884 1204h28v4h-28zM1008 1204h20v4h-20zM868 1208h8v4h-8zM880 1208h8v4h-8zM900 1208h16v4h-16zM988 1208h4v4h-4zM1000 1208h12v4h-12zM1020 1208h8v4h-8zM872 1212h40v4h-40zM936 1212h8v4h-8zM948 1212h4v4h-4zM976 1212h16v4h-16zM1000 1212h12v4h-12zM1020 1212h4v4h-4zM1048 1212h4v4h-4zM872 1216h4v4h-4zM880 1216h4v4h-4zM888 1216h4v4h-4zM896 1216h20v4h-20zM932 1216h8v4h-8zM960 1216h12v4h-12zM976 1216h8v4h-8zM996 1216h4v4h-4zM1004 1216h4v4h-4zM1020 1216h4v4h-4zM876 1220h12v4h-12zM892 1220h36v4h-36zM932 1220h12v4h-12zM960 1220h20v4h-20zM992 1220h4v4h-4zM1000 1220h4v4h-4zM1008 1220h4v4h-4zM1016 1220h8v4h-8zM1028 1220h4v4h-4zM880 1224h8v4h-8zM892 1224h4v4h-4zM908 1224h20v4h-20zM932 1224h16v4h-16zM964 1224h4v4h-4zM1012 1224h4v4h-4zM1020 1224h8v4h-8zM1044 1224h4v4h-4zM888 1228h4v4h-4zM908 1228h16v4h-16zM944 1228h8v4h-8zM960 1228h8v4h-8zM1008 1228h16v4h-16zM1032 1228h4v4h-4zM1060 1228h4v4h-4zM892 1232h8v4h-8zM944 1232h4v4h-4zM960 1232h4v4h-4zM968 1232h4v4h-4zM976 1232h8v4h-8zM996 1232h4v4h-4zM1016 1232h4v4h-4zM1024 1232h8v4h-8zM1044 1232h4v4h-4zM1052 1232h4v4h-4zM888 1236h8v4h-8zM972 1236h4v4h-4zM984 1236h16v4h-16zM1028 1236h4v4h-4zM1060 1236h4v4h-4zM944 1240h4v4h-4zM952 1240h4v4h-4zM972 1240h8v4h-8zM996 1240h8v4h-8zM1028 1240h12v4h-12zM892 1244h8v4h-8zM908 1244h4v4h-4zM916 1244h4v4h-4zM940 1244h16v4h-16zM972 1244h12v4h-12zM1004 1244h4v4h-4zM1016 1244h28v4h-28zM896 1248h16v4h-16zM916 1248h4v4h-4zM940 1248h4v4h-4zM952 1248h8v4h-8zM968 1248h12v4h-12zM1000 1248h8v4h-8zM1012 1248h32v4h-32zM1084 1248h4v4h-4zM892 1252h28v4h-28zM932 1252h4v4h-4zM940 1252h4v4h-4zM948 1252h4v4h-4zM960 1252h4v4h-4zM968 1252h16v4h-16zM1000 1252h28v4h-28zM1040 1252h8v4h-8zM1084 1252h4v4h-4zM896 1256h4v4h-4zM908 1256h4v4h-4zM916 1256h20v4h-20zM940 1256h12v4h-12zM956 1256h8v4h-8zM972 1256h12v4h-12zM1000 1256h8v4h-8zM1016 1256h8v4h-8zM1036 1256h12v4h-12zM1088 1256h8v4h-8zM1104 1256h4v4h-4zM1112 1256h4v4h-4zM1124 1256h12v4h-12zM900 1260h24v4h-24zM940 1260h16v4h-16zM972 1260h16v4h-16zM996 1260h4v4h-4zM1012 1260h4v4h-4zM1020 1260h28v4h-28zM1060 1260h8v4h-8zM1092 1260h4v4h-4zM1100 1260h8v4h-8zM1112 1260h4v4h-4zM1120 1260h16v4h-16zM932 1264h8v4h-8zM944 1264h12v4h-12zM968 1264h8v4h-8zM1008 1264h4v4h-4zM1020 1264h28v4h-28zM1052 1264h16v4h-16zM1100 1264h8v4h-8zM1132 1264h4v4h-4zM1144 1264h4v4h-4zM980 1268h8v4h-8zM1012 1268h16v4h-16zM1032 1268h12v4h-12zM1052 1268h24v4h-24zM1112 1268h4v4h-4zM1120 1268h4v4h-4zM1136 1268h8v4h-8zM960 1272h4v4h-4zM968 1272h8v4h-8zM980 1272h4v4h-4zM996 1272h4v4h-4zM1008 1272h20v4h-20zM1040 1272h8v4h-8zM1060 1272h12v4h-12zM1076 1272h4v4h-4zM1108 1272h20v4h-20zM1132 1272h8v4h-8zM1144 1272h8v4h-8zM980 1276h16v4h-16zM1000 1276h24v4h-24zM1032 1276h8v4h-8zM1044 1276h4v4h-4zM1068 1276h4v4h-4zM1076 1276h4v4h-4zM1112 1276h20v4h-20zM1136 1276h8v4h-8zM988 1280h4v4h-4zM1004 1280h8v4h-8zM1016 1280h4v4h-4zM1028 1280h8v4h-8zM1052 1280h8v4h-8zM1064 1280h4v4h-4zM1076 1280h12v4h-12zM1120 1280h12v4h-12zM1164 1280h8v4h-8zM1004 1284h4v4h-4zM1016 1284h12v4h-12zM1044 1284h8v4h-8zM1056 1284h4v4h-4zM1072 1284h20v4h-20zM1128 1284h4v4h-4zM1176 1284h4v4h-4zM1036 1288h16v4h-16zM1068 1288h8v4h-8zM1084 1288h16v4h-16zM1124 1288h4v4h-4zM1144 1288h8v4h-8zM1180 1288h4v4h-4zM1024 1292h12v4h-12zM1040 1292h8v4h-8zM1064 1292h4v4h-4zM1072 1292h20v4h-20zM1120 1292h4v4h-4zM1144 1292h8v4h-8zM1172 1292h8v4h-8zM1036 1296h16v4h-16zM1072 1296h8v4h-8zM1084 1296h12v4h-12zM1100 1296h4v4h-4zM1136 1296h20v4h-20zM1160 1296h4v4h-4zM1172 1296h8v4h-8zM1188 1296h4v4h-4zM1048 1300h4v4h-4zM1072 1300h8v4h-8zM1104 1300h8v4h-8zM1132 1300h24v4h-24zM1168 1300h12v4h-12zM1088 1304h4v4h-4zM1100 1304h8v4h-8zM1128 1304h16v4h-16zM1168 1304h8v4h-8zM1192 1304h8v4h-8zM1212 1304h4v4h-4zM1068 1308h4v4h-4zM1084 1308h8v4h-8zM1104 1308h12v4h-12zM1132 1308h36v4h-36zM1188 1308h12v4h-12zM1212 1308h4v4h-4zM1084 1312h4v4h-4zM1100 1312h12v4h-12zM1132 1312h40v4h-40zM1216 1312h4v4h-4zM1076 1316h4v4h-4zM1084 1316h4v4h-4zM1116 1316h12v4h-12zM1136 1316h4v4h-4zM1144 1316h4v4h-4zM1152 1316h36v4h-36zM1212 1316h8v4h-8zM1084 1320h4v4h-4zM1096 1320h4v4h-4zM1108 1320h28v4h-28zM1144 1320h40v4h-40zM1208 1320h12v4h-12zM1092 1324h8v4h-8zM1128 1324h8v4h-8zM1144 1324h4v4h-4zM1152 1324h20v4h-20zM1176 1324h8v4h-8zM1196 1324h8v4h-8zM1100 1328h8v4h-8zM1132 1328h4v4h-4zM1148 1328h16v4h-16zM1168 1328h4v4h-4zM1196 1328h4v4h-4zM1208 1328h4v4h-4zM1140 1332h8v4h-8zM1164 1332h20v4h-20zM1192 1332h12v4h-12zM1140 1336h8v4h-8zM1152 1336h4v4h-4zM1164 1336h28v4h-28zM1196 1336h4v4h-4zM1208 1336h4v4h-4zM1136 1340h12v4h-12zM1152 1340h60v4h-60zM1136 1344h28v4h-28zM1168 1344h36v4h-36zM1208 1344h4v4h-4zM1140 1348h16v4h-16zM1160 1348h24v4h-24zM1196 1348h4v4h-4zM1204 1348h4v4h-4zM1148 1352h8v4h-8zM1160 1352h16v4h-16zM1180 1352h4v4h-4zM1196 1352h16v4h-16zM1164 1356h8v4h-8zM1208 1356h4v4h-4zM1168 1360h4v4h-4zM1208 1360h8v4h-8zM1212 1364h4v4h-4zM1188 1368h4v4h-4zM1208 1368h8v4h-8zM1200 1372h8v4h-8zM1212 1372h4v4h-4zM1256 1432h4v4h-4zM1352 1440h8v4h-8zM1248 1444h4v4h-4zM1256 1444h4v4h-4zM1348 1444h8v4h-8zM1248 1448h4v4h-4zM1352 1448h4v4h-4zM1348 1452h4v4h-4zM1364 1452h4v4h-4zM1424 1452h8v4h-8zM1348 1456h20v4h-20zM1412 1456h4v4h-4zM1428 1456h8v4h-8zM1352 1460h4v4h-4zM1360 1460h8v4h-8zM1424 1460h8v4h-8zM1340 1464h4v4h-4zM1352 1464h4v4h-4zM1396 1464h4v4h-4zM1320 1468h4v4h-4zM1352 1468h12v4h-12zM1384 1468h4v4h-4zM1324 1472h4v4h-4zM1368 1472h4v4h-4zM1392 1472h4v4h-4zM1400 1472h4v4h-4zM1324 1476h4v4h-4zM1364 1476h4v4h-4zM1372 1476h4v4h-4zM1396 1476h4v4h-4zM1360 1480h4v4h-4zM1388 1480h4v4h-4zM1396 1480h4v4h-4zM1340 1484h8v4h-8zM1388 1484h4v4h-4zM1396 1484h12v4h-12zM1416 1484h8v4h-8zM1344 1488h4v4h-4zM1364 1488h4v4h-4zM1392 1488h16v4h-16zM1340 1492h8v4h-8zM1360 1492h8v4h-8zM1376 1492h4v4h-4zM1356 1496h4v4h-4zM1352 1500h8v4h-8zM1372 1500h4v4h-4zM1388 1500h4v4h-4zM1344 1504h4v4h-4zM1416 1512h4v4h-4zM1360 1516h8v4h-8zM1384 1516h4v4h-4zM1416 1516h4v4h-4zM1356 1520h8v4h-8zM1412 1520h4v4h-4zM1424 1520h8v4h-8zM1364 1524h8v4h-8zM1364 1528h8v4h-8zM1424 1528h4v4h-4zM1392 1532h4v4h-4zM1432 1532h4v4h-4zM1404 1536h4v4h-4zM1412 1544h16v4h-16zM1396 1548h4v4h-4zM1408 1548h4v4h-4zM1416 1548h4v4h-4zM1436 1548h4v4h-4zM1380 1552h4v4h-4zM1428 1552h8v4h-8zM1376 1556h4v4h-4zM1428 1556h8v4h-8zM1424 1560h4v4h-4zM1428 1564h4v4h-4zM1412 1568h8v4h-8zM1400 1572h4v4h-4zM1416 1572h8v4h-8zM1396 1576h8v4h-8zM1416 1576h4v4h-4zM1416 1580h4v4h-4zM1388 1584h4v4h-4zM1388 1592h8v4h-8zM1392 1596h4v4h-4zM1408 1596h4v4h-4zM1448 1604h4v4h-4zM1444 1608h8v4h-8zM1444 1612h8v4h-8zM1440 1616h8v4h-8zM1440 1620h8v4h-8zM1440 1624h8v4h-8zM1444 1628h4v4h-4zM1444 1632h8v4h-8zM1440 1636h4v4h-4zM1448 1636h4v4h-4zM1448 1640h8v4h-8z"/>
<path fill="#e6855d" d="M260 652h4v4h-4zM268 656h4v4h-4zM280 656h4v4h-4zM348 656h4v4h-4zM272 660h12v4h-12zM328 660h8v4h-8zM264 664h4v4h-4zM328 664h4v4h-4zM380 664h4v4h-4zM272 668h8v4h-8zM296 668h4v4h-4zM280 672h4v4h-4zM260 680h4v4h-4zM292 680h4v4h-4zM284 684h4v4h-4zM292 684h4v4h-4zM312 684h8v4h-8zM284 688h8v4h-8zM312 688h8v4h-8zM284 692h4v4h-4zM320 692h4v4h-4zM292 700h4v4h-4zM312 700h4v4h-4zM324 700h4v4h-4zM356 700h4v4h-4zM376 700h4v4h-4zM316 704h8v4h-8zM328 704h12v4h-12zM316 708h8v4h-8zM332 708h24v4h-24zM364 708h4v4h-4zM380 708h4v4h-4zM408 708h4v4h-4zM424 708h4v4h-4zM336 712h16v4h-16zM360 712h8v4h-8zM380 712h4v4h-4zM388 712h8v4h-8zM400 712h4v4h-4zM420 712h8v4h-8zM332 716h4v4h-4zM344 716h8v4h-8zM380 716h12v4h-12zM420 716h4v4h-4zM428 716h4v4h-4zM292 720h4v4h-4zM320 720h4v4h-4zM344 720h4v4h-4zM396 720h4v4h-4zM420 720h8v4h-8zM272 724h4v4h-4zM324 724h4v4h-4zM344 724h12v4h-12zM416 724h12v4h-12zM304 728h8v4h-8zM324 728h4v4h-4zM340 728h16v4h-16zM340 732h4v4h-4zM348 732h4v4h-4zM404 732h4v4h-4zM272 736h4v4h-4zM308 736h4v4h-4zM332 736h4v4h-4zM344 736h12v4h-12zM364 736h8v4h-8zM408 736h4v4h-4zM424 736h4v4h-4zM308 740h8v4h-8zM344 740h12v4h-12zM364 740h4v4h-4zM308 744h4v4h-4zM340 744h12v4h-12zM368 744h4v4h-4zM408 744h4v4h-4zM416 744h4v4h-4zM284 748h4v4h-4zM324 748h4v4h-4zM340 748h4v4h-4zM364 748h4v4h-4zM412 748h4v4h-4zM284 752h4v4h-4zM300 752h8v4h-8zM336 752h4v4h-4zM428 752h4v4h-4zM392 756h4v4h-4zM264 760h4v4h-4zM328 760h4v4h-4zM352 760h4v4h-4zM380 760h4v4h-4zM396 760h4v4h-4zM448 760h8v4h-8zM460 760h8v4h-8zM264 764h4v4h-4zM332 764h4v4h-4zM340 764h12v4h-12zM456 764h8v4h-8zM332 768h4v4h-4zM344 768h4v4h-4zM468 768h4v4h-4zM320 772h12v4h-12zM452 772h4v4h-4zM320 776h4v4h-4zM332 776h4v4h-4zM364 776h4v4h-4zM380 776h4v4h-4zM404 776h4v4h-4zM436 776h8v4h-8zM452 776h4v4h-4zM480 776h8v4h-8zM316 780h12v4h-12zM344 780h4v4h-4zM352 780h12v4h-12zM392 780h4v4h-4zM456 780h4v4h-4zM488 780h4v4h-4zM316 784h4v4h-4zM336 784h4v4h-4zM356 784h4v4h-4zM392 784h4v4h-4zM444 784h4v4h-4zM456 784h4v4h-4zM468 784h4v4h-4zM440 788h4v4h-4zM452 788h8v4h-8zM348 792h4v4h-4zM360 792h8v4h-8zM316 796h4v4h-4zM344 796h16v4h-16zM372 796h4v4h-4zM448 796h12v4h-12zM476 796h4v4h-4zM316 800h8v4h-8zM332 800h4v4h-4zM344 800h28v4h-28zM380 800h4v4h-4zM452 800h8v4h-8zM476 800h8v4h-8zM332 804h4v4h-4zM348 804h20v4h-20zM408 804h4v4h-4zM432 804h12v4h-12zM456 804h8v4h-8zM472 804h8v4h-8zM500 804h4v4h-4zM300 808h4v4h-4zM332 808h4v4h-4zM348 808h4v4h-4zM356 808h12v4h-12zM376 808h4v4h-4zM400 808h12v4h-12zM428 808h4v4h-4zM436 808h12v4h-12zM452 808h4v4h-4zM460 808h4v4h-4zM352 812h4v4h-4zM360 812h4v4h-4zM372 812h8v4h-8zM384 812h8v4h-8zM404 812h4v4h-4zM444 812h4v4h-4zM452 812h12v4h-12zM492 812h4v4h-4zM356 816h4v4h-4zM372 816h4v4h-4zM380 816h12v4h-12zM460 816h4v4h-4zM476 816h4v4h-4zM308 820h4v4h-4zM364 820h4v4h-4zM384 820h8v4h-8zM404 820h16v4h-16zM464 820h4v4h-4zM480 820h4v4h-4zM492 820h4v4h-4zM500 820h4v4h-4zM332 824h4v4h-4zM368 824h12v4h-12zM384 824h8v4h-8zM404 824h4v4h-4zM416 824h4v4h-4zM436 824h4v4h-4zM500 824h8v4h-8zM376 828h4v4h-4zM384 828h4v4h-4zM400 828h4v4h-4zM428 828h8v4h-8zM440 828h4v4h-4zM500 828h4v4h-4zM352 832h4v4h-4zM376 832h4v4h-4zM392 832h24v4h-24zM440 832h4v4h-4zM448 832h4v4h-4zM408 836h4v4h-4zM452 836h8v4h-8zM496 836h4v4h-4zM352 840h4v4h-4zM456 840h4v4h-4zM464 840h4v4h-4zM504 840h4v4h-4zM368 844h4v4h-4zM424 844h4v4h-4zM452 844h8v4h-8zM464 844h4v4h-4zM392 848h4v4h-4zM420 848h4v4h-4zM420 852h4v4h-4zM492 852h4v4h-4zM412 856h4v4h-4zM424 864h4v4h-4zM496 864h4v4h-4zM420 868h4v4h-4zM420 872h4v4h-4zM436 872h4v4h-4zM524 872h4v4h-4zM432 876h8v4h-8zM488 876h4v4h-4zM500 876h4v4h-4zM520 876h16v4h-16zM540 876h4v4h-4zM520 880h12v4h-12zM468 884h8v4h-8zM516 884h4v4h-4zM544 884h12v4h-12zM560 884h4v4h-4zM512 888h4v4h-4zM540 888h20v4h-20zM528 892h32v4h-32zM524 896h28v4h-28zM556 896h4v4h-4zM564 896h4v4h-4zM528 900h44v4h-44zM532 904h20v4h-20zM556 904h16v4h-16zM540 908h4v4h-4zM548 908h4v4h-4zM560 908h12v4h-12zM560 912h8v4h-8zM600 912h4v4h-4zM504 916h4v4h-4zM524 916h4v4h-4zM556 916h4v4h-4zM564 916h4v4h-4zM572 916h4v4h-4zM600 916h8v4h-8zM528 920h12v4h-12zM556 920h4v4h-4zM564 920h16v4h-16zM600 920h12v4h-12zM600 924h4v4h-4zM608 924h4v4h-4zM616 924h4v4h-4zM556 928h8v4h-8zM580 928h4v4h-4zM600 928h4v4h-4zM608 928h4v4h-4zM616 928h4v4h-4zM548 932h4v4h-4zM560 932h8v4h-8zM572 932h4v4h-4zM588 932h24v4h-24zM616 932h8v4h-8zM568 936h4v4h-4zM592 936h32v4h-32zM600 940h4v4h-4zM608 940h16v4h-16zM604 944h16v4h-16zM612 948h4v4h-4zM612 952h4v4h-4zM636 952h4v4h-4zM652 960h4v4h-4zM596 964h4v4h-4zM656 964h4v4h-4zM616 968h4v4h-4zM652 968h8v4h-8zM628 972h4v4h-4zM660 972h4v4h-4zM620 976h4v4h-4zM660 976h4v4h-4zM668 976h4v4h-4zM620 980h4v4h-4zM632 984h4v4h-4zM632 988h4v4h-4zM684 992h4v4h-4zM664 996h4v4h-4zM676 1000h4v4h-4zM696 1000h4v4h-4zM668 1004h4v4h-4zM696 1008h4v4h-4zM672 1012h8v4h-8zM688 1012h4v4h-4zM696 1012h4v4h-4zM880 1012h4v4h-4zM880 1016h8v4h-8zM868 1020h8v4h-8zM720 1024h4v4h-4zM868 1024h8v4h-8zM868 1028h4v4h-4zM748 1040h8v4h-8zM772 1040h16v4h-16zM856 1040h4v4h-4zM720 1044h8v4h-8zM752 1044h8v4h-8zM776 1044h12v4h-12zM804 1044h4v4h-4zM836 1044h4v4h-4zM852 1044h4v4h-4zM752 1048h4v4h-4zM768 1048h4v4h-4zM776 1048h12v4h-12zM796 1048h8v4h-8zM812 1048h4v4h-4zM832 1048h8v4h-8zM852 1048h4v4h-4zM760 1052h4v4h-4zM772 1052h12v4h-12zM788 1052h4v4h-4zM800 1052h4v4h-4zM812 1052h4v4h-4zM836 1052h4v4h-4zM852 1052h4v4h-4zM740 1056h4v4h-4zM756 1056h4v4h-4zM784 1056h12v4h-12zM800 1056h20v4h-20zM832 1056h8v4h-8zM772 1060h48v4h-48zM852 1060h4v4h-4zM776 1064h16v4h-16zM800 1064h8v4h-8zM836 1064h16v4h-16zM776 1068h32v4h-32zM812 1068h4v4h-4zM836 1068h12v4h-12zM776 1072h16v4h-16zM796 1072h16v4h-16zM832 1072h4v4h-4zM840 1072h4v4h-4zM764 1076h4v4h-4zM772 1076h12v4h-12zM788 1076h8v4h-8zM800 1076h20v4h-20zM828 1076h8v4h-8zM840 1076h4v4h-4zM772 1080h16v4h-16zM792 1080h16v4h-16zM812 1080h12v4h-12zM840 1080h4v4h-4zM764 1084h4v4h-4zM772 1084h16v4h-16zM792 1084h20v4h-20zM820 1084h8v4h-8zM840 1084h8v4h-8zM768 1088h20v4h-20zM796 1088h12v4h-12zM816 1088h4v4h-4zM840 1088h4v4h-4zM848 1088h4v4h-4zM768 1092h4v4h-4zM776 1092h8v4h-8zM792 1092h24v4h-24zM828 1092h4v4h-4zM848 1092h4v4h-4zM768 1096h4v4h-4zM780 1096h36v4h-36zM828 1096h4v4h-4zM848 1096h4v4h-4zM780 1100h4v4h-4zM788 1100h8v4h-8zM800 1100h20v4h-20zM824 1100h4v4h-4zM848 1100h4v4h-4zM772 1104h4v4h-4zM788 1104h8v4h-8zM804 1104h16v4h-16zM824 1104h4v4h-4zM836 1104h4v4h-4zM776 1108h4v4h-4zM784 1108h4v4h-4zM796 1108h28v4h-28zM848 1108h4v4h-4zM776 1112h4v4h-4zM792 1112h16v4h-16zM812 1112h8v4h-8zM828 1112h4v4h-4zM780 1116h28v4h-28zM816 1116h12v4h-12zM832 1116h4v4h-4zM848 1116h4v4h-4zM784 1120h16v4h-16zM808 1120h4v4h-4zM824 1120h28v4h-28zM784 1124h48v4h-48zM784 1128h28v4h-28zM824 1128h4v4h-4zM780 1132h20v4h-20zM804 1132h4v4h-4zM824 1132h4v4h-4zM864 1132h4v4h-4zM772 1136h4v4h-4zM780 1136h8v4h-8zM796 1136h16v4h-16zM820 1136h4v4h-4zM840 1136h12v4h-12zM768 1140h8v4h-8zM800 1140h4v4h-4zM808 1140h4v4h-4zM852 1140h4v4h-4zM796 1144h4v4h-4zM808 1144h4v4h-4zM848 1144h4v4h-4zM864 1144h4v4h-4zM768 1148h4v4h-4zM828 1148h4v4h-4zM836 1148h4v4h-4zM844 1148h8v4h-8zM864 1148h4v4h-4zM768 1152h8v4h-8zM780 1152h8v4h-8zM820 1152h4v4h-4zM832 1152h40v4h-40zM768 1156h12v4h-12zM788 1156h4v4h-4zM796 1156h4v4h-4zM808 1156h16v4h-16zM840 1156h28v4h-28zM768 1160h8v4h-8zM792 1160h12v4h-12zM816 1160h12v4h-12zM848 1160h16v4h-16zM768 1164h12v4h-12zM836 1164h28v4h-28zM768 1168h8v4h-8zM800 1168h4v4h-4zM832 1168h12v4h-12zM856 1168h4v4h-4zM772 1172h4v4h-4zM780 1172h4v4h-4zM792 1172h4v4h-4zM816 1172h4v4h-4zM828 1172h4v4h-4zM836 1172h4v4h-4zM852 1172h4v4h-4zM776 1176h8v4h-8zM808 1176h12v4h-12zM828 1176h4v4h-4zM852 1176h4v4h-4zM800 1180h12v4h-12zM828 1180h4v4h-4zM800 1184h4v4h-4zM808 1184h12v4h-12zM828 1184h4v4h-4zM836 1184h8v4h-8zM804 1188h40v4h-40zM800 1192h4v4h-4zM808 1192h16v4h-16zM828 1192h4v4h-4zM804 1196h4v4h-4zM812 1196h4v4h-4zM828 1196h16v4h-16zM848 1196h4v4h-4zM816 1200h4v4h-4zM828 1200h16v4h-16zM820 1204h24v4h-24zM888 1208h12v4h-12zM960 1212h4v4h-4zM1024 1212h12v4h-12zM928 1216h4v4h-4zM948 1216h4v4h-4zM1024 1216h24v4h-24zM1024 1220h4v4h-4zM1036 1220h4v4h-4zM1052 1220h4v4h-4zM900 1224h4v4h-4zM1028 1224h12v4h-12zM1052 1224h8v4h-8zM896 1228h4v4h-4zM1028 1228h4v4h-4zM1036 1228h8v4h-8zM1048 1228h4v4h-4zM924 1232h8v4h-8zM1020 1232h4v4h-4zM1036 1232h8v4h-8zM1048 1232h4v4h-4zM956 1236h8v4h-8zM968 1236h4v4h-4zM976 1236h4v4h-4zM1020 1236h4v4h-4zM1036 1236h24v4h-24zM1064 1236h4v4h-4zM948 1240h4v4h-4zM980 1240h8v4h-8zM1008 1240h4v4h-4zM1016 1240h4v4h-4zM1040 1240h20v4h-20zM1064 1240h4v4h-4zM900 1244h8v4h-8zM928 1244h4v4h-4zM960 1244h4v4h-4zM984 1244h12v4h-12zM1012 1244h4v4h-4zM1044 1244h16v4h-16zM1076 1244h4v4h-4zM888 1248h8v4h-8zM932 1248h4v4h-4zM960 1248h4v4h-4zM1056 1248h4v4h-4zM1072 1248h12v4h-12zM952 1252h8v4h-8zM964 1252h4v4h-4zM1048 1252h8v4h-8zM1076 1252h8v4h-8zM936 1256h4v4h-4zM952 1256h4v4h-4zM964 1256h8v4h-8zM1024 1256h8v4h-8zM1068 1256h20v4h-20zM1116 1256h8v4h-8zM1136 1256h4v4h-4zM928 1260h4v4h-4zM936 1260h4v4h-4zM956 1260h4v4h-4zM964 1260h8v4h-8zM1016 1260h4v4h-4zM1068 1260h16v4h-16zM1108 1260h4v4h-4zM1116 1260h4v4h-4zM928 1264h4v4h-4zM940 1264h4v4h-4zM988 1264h8v4h-8zM1012 1264h8v4h-8zM1048 1264h4v4h-4zM1072 1264h16v4h-16zM1124 1264h4v4h-4zM968 1268h4v4h-4zM988 1268h4v4h-4zM1008 1268h4v4h-4zM1028 1268h4v4h-4zM984 1272h4v4h-4zM992 1272h4v4h-4zM1028 1272h4v4h-4zM1024 1276h4v4h-4zM1064 1276h4v4h-4zM1152 1276h8v4h-8zM1024 1280h4v4h-4zM1032 1288h4v4h-4zM1052 1288h4v4h-4zM1104 1288h4v4h-4zM1116 1288h4v4h-4zM1048 1292h4v4h-4zM1056 1292h4v4h-4zM1092 1292h4v4h-4zM1100 1292h8v4h-8zM1116 1292h4v4h-4zM1112 1296h4v4h-4zM1120 1296h4v4h-4zM1132 1296h4v4h-4zM1204 1296h4v4h-4zM1064 1300h4v4h-4zM1084 1300h8v4h-8zM1160 1300h4v4h-4zM1056 1304h4v4h-4zM1064 1304h12v4h-12zM1080 1304h8v4h-8zM1164 1304h4v4h-4zM1064 1308h4v4h-4zM1100 1308h4v4h-4zM1168 1308h4v4h-4zM1076 1312h8v4h-8zM1092 1312h8v4h-8zM1112 1312h4v4h-4zM1196 1312h4v4h-4zM1096 1316h4v4h-4zM1192 1316h8v4h-8zM1104 1324h4v4h-4zM1204 1324h4v4h-4zM1108 1328h4v4h-4zM1200 1328h4v4h-4zM1212 1328h4v4h-4zM1204 1332h8v4h-8zM1128 1336h8v4h-8zM1192 1336h4v4h-4zM1200 1336h8v4h-8zM1124 1340h4v4h-4zM1156 1356h8v4h-8zM1172 1356h4v4h-4zM1200 1356h4v4h-4zM1164 1360h4v4h-4zM1188 1364h8v4h-8zM1192 1368h8v4h-8zM1244 1436h4v4h-4zM1360 1436h4v4h-4zM1248 1440h8v4h-8zM1260 1444h4v4h-4zM1360 1444h4v4h-4zM1340 1448h8v4h-8zM1360 1448h8v4h-8zM1336 1452h12v4h-12zM1360 1452h4v4h-4zM1404 1452h4v4h-4zM1412 1452h4v4h-4zM1332 1456h8v4h-8zM1344 1456h4v4h-4zM1388 1456h4v4h-4zM1416 1456h4v4h-4zM1328 1460h8v4h-8zM1344 1460h4v4h-4zM1372 1460h4v4h-4zM1392 1460h16v4h-16zM1416 1460h4v4h-4zM1324 1464h8v4h-8zM1344 1464h4v4h-4zM1356 1464h12v4h-12zM1372 1464h8v4h-8zM1384 1464h8v4h-8zM1400 1464h8v4h-8zM1412 1464h12v4h-12zM1344 1468h4v4h-4zM1364 1468h4v4h-4zM1380 1468h4v4h-4zM1400 1468h16v4h-16zM1424 1468h4v4h-4zM1396 1472h4v4h-4zM1404 1472h24v4h-24zM1340 1476h12v4h-12zM1392 1476h4v4h-4zM1400 1476h16v4h-16zM1420 1476h4v4h-4zM1324 1480h16v4h-16zM1344 1480h16v4h-16zM1400 1480h12v4h-12zM1332 1484h8v4h-8zM1348 1484h4v4h-4zM1388 1488h4v4h-4zM1356 1492h4v4h-4zM1368 1492h8v4h-8zM1400 1492h4v4h-4zM1412 1492h4v4h-4zM1360 1496h8v4h-8zM1372 1496h4v4h-4zM1396 1496h8v4h-8zM1360 1500h12v4h-12zM1376 1500h12v4h-12zM1396 1500h8v4h-8zM1412 1500h4v4h-4zM1348 1504h16v4h-16zM1372 1504h16v4h-16zM1408 1504h12v4h-12zM1348 1508h12v4h-12zM1364 1508h28v4h-28zM1396 1508h12v4h-12zM1416 1508h8v4h-8zM1348 1512h8v4h-8zM1372 1512h36v4h-36zM1420 1512h4v4h-4zM1380 1516h4v4h-4zM1388 1516h12v4h-12zM1424 1516h4v4h-4zM1392 1520h4v4h-4zM1408 1520h4v4h-4zM1416 1520h8v4h-8zM1376 1524h4v4h-4zM1384 1524h4v4h-4zM1404 1524h4v4h-4zM1412 1524h16v4h-16zM1360 1528h4v4h-4zM1380 1528h12v4h-12zM1404 1528h4v4h-4zM1416 1528h4v4h-4zM1368 1532h12v4h-12zM1384 1532h4v4h-4zM1412 1532h4v4h-4zM1360 1536h4v4h-4zM1368 1536h28v4h-28zM1408 1536h12v4h-12zM1364 1540h12v4h-12zM1380 1540h8v4h-8zM1392 1540h4v4h-4zM1400 1540h16v4h-16zM1368 1544h16v4h-16zM1388 1544h4v4h-4zM1404 1544h8v4h-8zM1364 1548h16v4h-16zM1400 1548h8v4h-8zM1368 1552h12v4h-12zM1396 1552h12v4h-12zM1412 1552h4v4h-4zM1436 1552h4v4h-4zM1364 1556h8v4h-8zM1388 1556h16v4h-16zM1408 1556h12v4h-12zM1368 1560h4v4h-4zM1384 1560h4v4h-4zM1392 1560h4v4h-4zM1400 1560h8v4h-8zM1412 1560h8v4h-8zM1428 1560h4v4h-4zM1396 1564h4v4h-4zM1404 1564h8v4h-8zM1416 1564h4v4h-4zM1392 1568h12v4h-12zM1408 1568h4v4h-4zM1424 1568h4v4h-4zM1392 1572h8v4h-8zM1404 1572h12v4h-12zM1372 1576h4v4h-4zM1392 1576h4v4h-4zM1404 1576h12v4h-12zM1388 1580h8v4h-8zM1404 1580h8v4h-8zM1404 1584h4v4h-4zM1380 1588h4v4h-4zM1396 1588h12v4h-12zM1384 1592h4v4h-4zM1396 1592h8v4h-8zM1400 1596h4v4h-4zM1388 1600h4v4h-4zM1436 1620h4v4h-4zM1460 1624h4v4h-4zM1440 1628h4v4h-4zM1440 1632h4v4h-4zM1456 1632h4v4h-4zM1440 1640h8v4h-8z"/>
<path fill="#740d0c" d="M244 588h4v4h-4zM212 592h8v4h-8zM232 592h12v4h-12zM216 596h4v4h-4zM224 596h4v4h-4zM232 596h8v4h-8zM216 600h4v4h-4zM224 600h4v4h-4zM236 600h4v4h-4zM300 708h8v4h-8zM404 708h4v4h-4zM424 716h4v4h-4zM376 720h4v4h-4zM384 720h4v4h-4zM408 720h4v4h-4zM376 728h4v4h-4zM400 728h4v4h-4zM308 732h12v4h-12zM372 732h4v4h-4zM380 732h4v4h-4zM312 736h12v4h-12zM316 740h16v4h-16zM336 740h4v4h-4zM304 744h4v4h-4zM312 744h12v4h-12zM332 744h4v4h-4zM304 748h20v4h-20zM308 752h4v4h-4zM320 752h8v4h-8zM332 752h4v4h-4zM340 752h8v4h-8zM332 756h16v4h-16zM332 760h12v4h-12zM328 764h4v4h-4zM336 764h4v4h-4zM328 768h4v4h-4zM336 768h8v4h-8zM348 768h4v4h-4zM316 772h4v4h-4zM332 772h24v4h-24zM316 776h4v4h-4zM336 776h24v4h-24zM332 780h12v4h-12zM340 784h8v4h-8zM352 784h4v4h-4zM324 788h4v4h-4zM340 788h16v4h-16zM364 788h12v4h-12zM316 792h4v4h-4zM340 792h4v4h-4zM352 792h8v4h-8zM376 792h8v4h-8zM320 796h4v4h-4zM336 796h4v4h-4zM360 796h8v4h-8zM380 796h4v4h-4zM372 800h8v4h-8zM384 800h12v4h-12zM400 800h4v4h-4zM344 804h4v4h-4zM372 804h8v4h-8zM384 804h16v4h-16zM404 804h4v4h-4zM340 808h4v4h-4zM352 808h4v4h-4zM372 808h4v4h-4zM384 808h16v4h-16zM416 808h8v4h-8zM340 812h4v4h-4zM348 812h4v4h-4zM364 812h8v4h-8zM400 812h4v4h-4zM412 812h24v4h-24zM360 816h12v4h-12zM376 816h4v4h-4zM404 816h4v4h-4zM420 816h32v4h-32zM360 820h4v4h-4zM368 820h4v4h-4zM376 820h4v4h-4zM420 820h20v4h-20zM408 824h8v4h-8zM428 824h8v4h-8zM380 828h4v4h-4zM412 828h8v4h-8zM440 836h4v4h-4zM512 884h4v4h-4zM612 928h4v4h-4zM860 1032h4v4h-4zM860 1036h4v4h-4zM768 1044h4v4h-4zM804 1048h4v4h-4zM852 1056h4v4h-4zM768 1060h4v4h-4zM844 1060h4v4h-4zM792 1064h8v4h-8zM820 1068h4v4h-4zM792 1072h4v4h-4zM836 1072h4v4h-4zM784 1076h4v4h-4zM836 1076h4v4h-4zM788 1080h4v4h-4zM836 1080h4v4h-4zM772 1100h4v4h-4zM776 1104h8v4h-8zM820 1104h4v4h-4zM840 1104h4v4h-4zM780 1108h4v4h-4zM824 1108h4v4h-4zM836 1108h4v4h-4zM852 1108h4v4h-4zM800 1120h8v4h-8zM828 1128h4v4h-4zM776 1132h4v4h-4zM836 1132h4v4h-4zM776 1136h4v4h-4zM776 1140h8v4h-8zM804 1140h4v4h-4zM768 1144h16v4h-16zM804 1144h4v4h-4zM776 1148h8v4h-8zM804 1148h12v4h-12zM788 1152h4v4h-4zM800 1152h20v4h-20zM780 1156h8v4h-8zM800 1156h4v4h-4zM776 1160h12v4h-12zM804 1160h12v4h-12zM780 1164h8v4h-8zM796 1164h4v4h-4zM804 1164h16v4h-16zM780 1168h8v4h-8zM792 1168h8v4h-8zM808 1168h16v4h-16zM776 1172h4v4h-4zM784 1172h8v4h-8zM796 1172h4v4h-4zM804 1172h12v4h-12zM820 1172h4v4h-4zM796 1176h4v4h-4zM820 1176h4v4h-4zM792 1180h8v4h-8zM816 1180h12v4h-12zM832 1180h4v4h-4zM792 1184h4v4h-4zM804 1184h4v4h-4zM820 1184h8v4h-8zM796 1188h8v4h-8zM856 1196h4v4h-4zM812 1200h4v4h-4zM1004 1204h4v4h-4zM1032 1220h4v4h-4zM1040 1224h4v4h-4zM904 1232h4v4h-4zM920 1236h4v4h-4zM920 1240h4v4h-4zM1064 1244h4v4h-4zM1048 1248h8v4h-8zM1064 1248h8v4h-8zM900 1256h8v4h-8zM1088 1260h4v4h-4zM1088 1264h12v4h-12zM1076 1268h4v4h-4zM1092 1268h4v4h-4zM1100 1268h4v4h-4zM1080 1272h16v4h-16zM1084 1276h4v4h-4zM1092 1276h16v4h-16zM1092 1280h20v4h-20zM1092 1284h24v4h-24zM1108 1288h8v4h-8zM1096 1292h4v4h-4zM1108 1292h8v4h-8zM1116 1296h4v4h-4zM1116 1300h4v4h-4zM1180 1308h4v4h-4zM1184 1312h8v4h-8zM1188 1316h4v4h-4zM1184 1320h4v4h-4zM1204 1320h4v4h-4zM1172 1324h4v4h-4zM1172 1328h4v4h-4zM1196 1360h4v4h-4zM1400 1452h4v4h-4zM1420 1452h4v4h-4zM1340 1456h4v4h-4zM1324 1460h4v4h-4zM1336 1460h4v4h-4zM1356 1460h4v4h-4zM1420 1460h4v4h-4zM1368 1464h4v4h-4zM1416 1468h8v4h-8zM1384 1472h4v4h-4zM1352 1476h8v4h-8zM1392 1480h4v4h-4zM1392 1484h4v4h-4zM1408 1484h4v4h-4zM1352 1488h4v4h-4zM1412 1488h4v4h-4zM1368 1504h4v4h-4zM1392 1504h4v4h-4zM1404 1504h4v4h-4zM1392 1508h4v4h-4zM1408 1508h4v4h-4zM1368 1512h4v4h-4zM1372 1516h4v4h-4zM1420 1516h4v4h-4zM1356 1524h4v4h-4zM1388 1524h4v4h-4zM1360 1532h8v4h-8zM1396 1532h4v4h-4zM1416 1532h12v4h-12zM1364 1536h4v4h-4zM1396 1536h4v4h-4zM1388 1540h4v4h-4zM1396 1540h4v4h-4zM1416 1540h4v4h-4zM1424 1540h8v4h-8zM1384 1544h4v4h-4zM1380 1548h8v4h-8zM1428 1548h8v4h-8zM1416 1552h12v4h-12zM1380 1556h8v4h-8zM1404 1556h4v4h-4zM1420 1556h4v4h-4zM1376 1560h8v4h-8zM1388 1560h4v4h-4zM1408 1560h4v4h-4zM1420 1560h4v4h-4zM1380 1564h8v4h-8zM1392 1564h4v4h-4zM1412 1564h4v4h-4zM1380 1568h8v4h-8zM1376 1572h12v4h-12zM1376 1576h4v4h-4zM1376 1580h4v4h-4zM1396 1596h4v4h-4zM1404 1596h4v4h-4zM1456 1608h4v4h-4zM1452 1612h4v4h-4zM1448 1616h12v4h-12zM1456 1628h4v4h-4zM1460 1632h4v4h-4zM1456 1636h4v4h-4zM1456 1640h4v4h-4z"/>
<polyline points="336.0,750.0 345.0,764.0 352.0,775.0 363.0,786.0 381.0,797.0 403.0,808.0 425.0,817.0 444.0,822.0 458.0,824.0" fill="none" stroke="#740d0c" stroke-width="9" stroke-linejoin="round"/>
<polyline points="340.0,752.0 350.0,745.0 362.0,739.0" fill="none" stroke="#740d0c" stroke-width="7" stroke-linejoin="round"/>
<polyline points="398.0,730.0 410.0,727.0 426.0,724.0" fill="none" stroke="#740d0c" stroke-width="6" stroke-linejoin="round"/>
<g transform="translate(8,-3.5)">
<polyline points="959.5,792.8 951.7,799.0 954.8,810.6 956.4,819.9 950.2,824.6 942.5,840.0 937.8,855.5 936.3,871.0 942.5,880.3 954.8,886.5 964.1,895.8 968.8,908.2 975.0,919.0 978.8,933.0" fill="none" stroke="#bee8ff" stroke-width="5" stroke-linejoin="round" stroke-linecap="round"/>
<polyline points="978.8,933.0 975.0,943.8 965.7,953.0 958.0,959.3 947.1,968.6 927.0,971.7 911.5,979.4 899.0,985.6 885.0,995.0 880.0,1005.0 879.0,1017.0" fill="none" stroke="#bee8ff" stroke-width="7" stroke-linejoin="round" stroke-linecap="round"/>
<polyline points="940.0,878.0 948.6,886.5 961.0,902.0 968.8,911.3 973.4,920.6" fill="none" stroke="#bee8ff" stroke-width="3" stroke-linejoin="round" stroke-linecap="round"/>
<polyline points="1464.0,455.0 1460.0,462.0 1451.0,468.6 1436.5,476.9 1424.6,479.3 1412.7,486.4 1406.7,496.0 1404.3,505.5" fill="none" stroke="#bee8ff" stroke-width="7" stroke-linejoin="round" stroke-linecap="round"/>
<polyline points="1429.5,1453.9 1453.3,1464.0 1463.5,1450.5 1484.0,1430.0 1497.5,1413.0 1507.7,1409.6 1521.3,1416.4 1535.0,1396.0 1550.0,1380.0" fill="none" stroke="#bee8ff" stroke-width="6" stroke-linejoin="round" stroke-linecap="round"/>
<polyline points="1325.7,1465.8 1341.0,1460.7 1347.8,1467.5 1339.3,1476.0 1344.4,1489.6 1352.9,1493.0 1364.8,1501.5 1366.5,1511.7 1360.0,1522.0" fill="none" stroke="#bee8ff" stroke-width="7" stroke-linejoin="round" stroke-linecap="round"/>
<polyline points="1392.0,1528.7 1398.8,1503.2 1407.3,1525.3" fill="none" stroke="#bee8ff" stroke-width="6" stroke-linejoin="round" stroke-linecap="round"/>
<polyline points="821.0,1067.0 808.0,1079.0 787.5,1085.0 771.0,1094.0 762.0,1099.0" fill="none" stroke="#5f5f5f" stroke-width="9" stroke-linejoin="round" stroke-linecap="butt"/>
<polyline points="821.0,1067.0 808.0,1079.0 787.5,1085.0 771.0,1094.0 762.0,1099.0" fill="none" stroke="#bee8ff" stroke-width="6" stroke-linejoin="round" stroke-linecap="round"/>
<polygon points="1038.7,1260.0 1042.3,1259.5 1054.1,1269.0 1066.4,1269.5 1070.4,1279.5 1088.1,1285.4 1097.2,1300.4 1106.7,1302.2 1112.2,1306.7 1124.0,1308.5 1126.3,1313.1 1141.2,1312.2 1146.7,1304.0 1153.9,1310.3 1154.8,1319.4 1161.2,1311.2 1169.4,1322.1 1173.9,1310.3 1187.5,1311.2 1187.5,1317.6 1183.0,1323.0 1193.9,1332.1 1202.9,1333.9 1202.9,1338.5 1196.6,1340.3 1202.9,1361.2 1200.2,1362.1 1190.2,1344.8 1183.0,1350.3 1176.6,1346.6 1163.0,1343.9 1161.2,1337.6 1156.6,1336.7 1152.1,1332.1 1143.0,1335.7 1134.0,1335.7 1129.4,1333.9 1116.7,1337.6 1114.0,1345.0 1108.0,1336.0 1110.8,1319.4 1110.4,1310.3 1105.4,1304.0 1097.7,1301.7 1090.4,1299.4 1083.2,1285.8 1064.1,1284.0 1060.5,1277.7 1055.0,1272.2 1046.0,1272.2 1038.2,1263.1" fill="#bee8ff"/>
<polygon points="1124.9,1308.5 1129.4,1301.3 1131.2,1296.7 1128.5,1289.5 1141.2,1270.4 1142.1,1257.7 1146.7,1268.6 1134.9,1283.1 1131.7,1289.5 1134.9,1297.6 1134.9,1304.9 1126.7,1310.3" fill="#bee8ff"/>
<polygon points="760.0,1148.0 768.0,1150.0 780.0,1160.0 792.0,1166.0 798.0,1172.0 792.0,1175.0 778.0,1170.0 766.0,1162.0" fill="#bee8ff"/>
<polygon points="330.2,753.7 341.1,746.5 355.6,739.2 381.0,733.8 410.0,731.0 415.0,721.0 419.0,716.0 424.6,718.0 428.2,737.4 435.5,744.7 439.1,755.5 446.4,766.5 453.6,782.8 459.1,791.8 459.1,800.9 453.6,811.8 446.4,826.3 435.5,824.5 417.3,820.9 395.6,811.8 373.8,800.9 355.6,790.0 344.7,779.1 337.5,768.2 330.2,759.2" fill="#bee8ff"/>
<polygon points="1114.9,1314.9 1117.7,1314.0 1120.4,1319.4 1124.9,1326.7 1123.1,1328.0 1117.7,1323.0 1114.5,1317.6" fill="#2e741f"/>
<polygon points="1129.4,1317.6 1138.5,1319.4 1143.0,1324.9 1143.0,1330.3 1140.3,1330.3 1137.6,1323.0 1129.4,1320.3" fill="#2e741f"/>
<polygon points="-30.0,418.0 0.0,437.0 71.0,485.0 87.0,498.0 100.0,516.0 113.4,538.4 117.9,539.3 126.0,534.8 147.3,528.6 152.7,532.0 138.4,544.6 135.7,547.3 128.6,552.7 129.5,555.4 153.6,565.2 175.0,573.2 200.0,585.7 210.7,591.0 225.0,592.9 242.9,592.0 205.4,596.4 225.0,610.7 242.9,635.7 257.0,646.4 278.6,666.0 287.5,673.2 296.4,676.8 303.6,700.0 311.6,725.0 313.4,730.4 309.8,737.5 291.0,760.7 298.2,775.0 307.0,792.9 310.4,796.0 348.0,812.5 408.0,842.0 471.0,875.0 533.0,908.0 550.0,919.0 567.0,927.0 617.0,954.0 667.0,990.0 729.0,1037.5 754.0,1075.0 758.0,1083.0 762.5,1096.0 767.0,1102.0 771.0,1121.0 758.0,1144.0 748.0,1154.0 750.0,1165.0 775.0,1183.0 796.0,1200.0 820.4,1207.0 835.7,1215.7 846.0,1231.0 854.4,1234.4 912.3,1249.7 929.3,1254.8 953.0,1263.0 973.5,1270.0 1000.7,1275.0 1004.0,1278.6 1022.9,1283.7 1043.3,1288.8 1045.0,1294.0 1089.2,1314.4 1108.0,1326.3 1114.7,1341.6 1125.0,1346.7 1126.6,1353.5 1174.3,1377.3 1215.0,1396.0 1235.5,1416.4 1245.7,1436.9 1252.5,1450.5 1261.0,1452.0 1262.7,1460.7 1273.0,1467.5 1290.0,1474.3 1313.8,1494.7 1358.0,1520.2 1364.8,1525.3 1368.2,1539.0 1371.6,1566.0 1378.4,1583.2 1398.8,1603.6 1432.9,1641.0 1450.0,1660.0 1450.0,1700.0 -30.0,1700.0" fill="#bee8ff" stroke="#5f5f5f" stroke-width="1.8" stroke-linejoin="round"/>
<polyline points="545.8,856.0 533.0,864.6 535.4,875.0 541.7,887.5 545.8,900.0 552.0,916.7 554.0,925.0" fill="none" stroke="#5f5f5f" stroke-width="6" stroke-linejoin="round" stroke-linecap="round"/>
<polyline points="545.8,856.0 533.0,864.6 535.4,875.0 541.7,887.5 545.8,900.0 552.0,916.7 554.0,925.0" fill="none" stroke="#bee8ff" stroke-width="2.5" stroke-linejoin="round" stroke-linecap="round"/>
<polygon points="287.5,673.2 296.4,676.8 303.6,700.0 311.6,725.0 308.0,728.0 300.0,703.0 292.0,680.0" fill="#bee8ff" stroke="#5f5f5f" stroke-width="2" stroke-linejoin="round"/>
<polygon points="912.3,1249.7 929.3,1254.8 953.0,1263.0 970.0,1268.0 950.0,1265.0 925.0,1257.0" fill="#bee8ff" stroke="#5f5f5f" stroke-width="2" stroke-linejoin="round"/>
<polygon points="1245.7,1436.9 1252.5,1450.5 1261.0,1452.0" fill="#bee8ff" stroke="#5f5f5f" stroke-width="2" stroke-linejoin="round"/>
<polygon points="-30.0,-30.0 824.5,-5.0 824.5,0.0 824.0,5.4 819.6,9.3 804.5,9.8 802.7,14.3 798.0,18.8 800.0,24.0 796.4,32.0 786.6,33.0 779.5,43.8 777.7,49.0 756.0,65.0 740.0,71.4 727.7,82.0 720.5,84.8 713.4,91.0 710.7,92.0 702.7,82.0 698.0,87.0 667.0,108.0 665.0,115.0 637.0,137.0 617.0,150.0 610.0,158.0 600.0,171.0 562.0,185.0 558.0,194.0 537.0,210.0 523.0,227.0 519.0,248.0 508.0,252.0 500.0,262.0 492.0,269.0 485.0,287.0 483.0,298.0 471.0,308.0 450.0,310.0 437.0,317.0 425.0,319.0 417.0,325.0 408.0,323.0 398.0,327.0 390.0,342.0 387.0,354.0 381.0,352.0 379.0,344.0 373.0,342.0 369.0,346.0 371.0,358.0 369.0,367.0 367.0,381.0 356.0,387.0 352.0,392.0 352.0,402.0 344.0,400.0 337.0,404.0 348.0,419.0 352.0,446.0 350.0,462.0 321.0,462.0 315.0,471.0 321.0,485.0 317.9,500.0 317.0,511.6 308.0,523.2 298.2,524.0 289.3,540.2 278.6,540.2 277.7,549.0 267.0,559.0 272.3,577.7 253.6,584.0 242.9,592.0 242.9,592.0 225.0,592.9 210.7,591.0 200.0,585.7 175.0,573.2 153.6,565.2 129.5,555.4 128.6,552.7 135.7,547.3 138.4,544.6 152.7,532.0 147.3,528.6 126.0,534.8 117.9,539.3 113.4,538.4 100.0,516.0 87.0,498.0 71.0,485.0 0.0,437.0 -30.0,418.0" fill="#b2b2b2" stroke="#5f5f5f" stroke-width="1.8" stroke-linejoin="round"/>
<polygon points="131.2,542.9 135.7,538.4 142.0,538.4 142.9,541.1 136.6,546.8 132.1,546.4" fill="#b2b2b2" stroke="#5f5f5f" stroke-width="1.5" stroke-linejoin="round"/>
<polygon points="169.6,576.8 173.2,576.8 200.0,592.6 199.1,594.8 170.5,579.5" fill="#b2b2b2" stroke="#5f5f5f" stroke-width="1.5" stroke-linejoin="round"/>
<polygon points="151.8,565.0 158.9,567.2 158.5,568.6 151.5,566.5" fill="#b2b2b2" stroke="#5f5f5f" stroke-width="1.5" stroke-linejoin="round"/>
<polygon points="756.0,1079.0 764.6,1075.0 764.6,1060.0 800.0,1058.0 800.0,1087.5 804.0,1098.0 819.0,1104.0 819.0,1112.5 831.0,1114.6 831.0,1119.0 823.0,1121.0 823.0,1127.0 802.0,1127.0 802.0,1137.5 798.0,1142.0 802.0,1150.0 808.0,1150.0 808.0,1183.0 814.6,1187.5 814.6,1202.0 800.0,1202.0 787.5,1194.0 775.0,1181.0 754.0,1169.0 748.0,1156.0 754.0,1148.0 760.0,1142.0 771.0,1125.0 767.0,1112.5 762.5,1102.0 771.0,1092.0 758.0,1092.0" fill="none" stroke="#000" stroke-width="2.2" stroke-linejoin="round"/>
<polygon points="309.8,737.5 321.4,747.3 322.3,759.0 314.3,769.6 303.6,774.1 297.3,774.1 290.2,760.7" fill="none" stroke="#000" stroke-width="2.2" stroke-linejoin="round"/>
<ellipse cx="758" cy="656" rx="27" ry="23" fill="none" stroke="#000" stroke-width="2.2"/>
<ellipse cx="709" cy="814.6" rx="14.6" ry="12.5" fill="none" stroke="#000" stroke-width="2.2"/>
<ellipse cx="921.5" cy="1042" rx="26.5" ry="23" fill="none" stroke="#000" stroke-width="2.2"/>
<ellipse cx="1144" cy="970" rx="25" ry="20.5" fill="none" stroke="#000" stroke-width="2.2"/>
<ellipse cx="1504" cy="723" rx="14.8" ry="12.4" fill="none" stroke="#000" stroke-width="2.2"/>
<ellipse cx="1139.6" cy="1196" rx="37.4" ry="32.3" fill="none" stroke="#000" stroke-width="2.2"/>
<ellipse cx="1387" cy="1557.6" rx="19.5" ry="24" fill="none" stroke="#000" stroke-width="2.2"/>
</g>
</g>
<text x="177.0" y="452.5" font-family="Liberation Sans" font-size="33" font-weight="normal" font-style="normal" fill="#000" textLength="201.0" lengthAdjust="spacingAndGlyphs" stroke="#b2b2b2" stroke-width="0.7">Sierra Leone</text>
<text x="1767.0" y="452.5" font-family="Liberation Sans" font-size="33" font-weight="normal" font-style="normal" fill="#000" textLength="201.0" lengthAdjust="spacingAndGlyphs" stroke="#b2b2b2" stroke-width="0.7">Sierra Leone</text>
<text x="72.0" y="1386.0" font-family="Liberation Sans" font-size="46" font-weight="bold" font-style="italic" fill="#005ce6" textLength="529.0" lengthAdjust="spacing">Atlantic Ocean</text>
<text x="1692.0" y="1386.0" font-family="Liberation Sans" font-size="46" font-weight="bold" font-style="italic" fill="#005ce6" textLength="528.0" lengthAdjust="spacing">Atlantic Ocean</text>
<line x1="792" y1="1405" x2="663" y2="1532" stroke="#fff" stroke-width="4"/>
<line x1="2406" y1="1397" x2="2277" y2="1524" stroke="#fff" stroke-width="4"/>
<text x="585.0" y="1554.0" font-family="Liberation Sans" font-size="33" font-weight="normal" font-style="normal" fill="#fff" textLength="151.0" lengthAdjust="spacingAndGlyphs" stroke="#bee8ff" stroke-width="0.9">Monrovia</text>
<text x="2214.0" y="1554.0" font-family="Liberation Sans" font-size="33" font-weight="normal" font-style="normal" fill="#fff" textLength="153.0" lengthAdjust="spacingAndGlyphs" stroke="#bee8ff" stroke-width="0.9">Monrovia</text>
<path d="M80.5,1828.5 V1851.5 H472.5 V1828.5 M276.5,1828.5 V1851.5" fill="none" stroke="#000" stroke-width="3.4" stroke-linecap="butt" stroke-linejoin="miter"/>
<text x="71.0" y="1812.0" font-family="Liberation Sans" font-size="32" font-weight="normal" font-style="normal" fill="#000" textLength="20.0" lengthAdjust="spacingAndGlyphs">0</text>
<text x="454.0" y="1812.0" font-family="Liberation Sans" font-size="32" font-weight="normal" font-style="normal" fill="#000" textLength="92.5" lengthAdjust="spacingAndGlyphs">50 km</text>
<path d="M586,1783 L610.5,1854 L586,1838.5 L561.5,1854 Z" fill="#000"/>
<text x="577.5" y="1771.0" font-family="Liberation Serif" font-size="26" font-weight="normal" font-style="normal" fill="#000">N</text>
<path d="M1694,1828.5 V1851.5 H2088.5 V1828.5 M1890,1828.5 V1851.5" fill="none" stroke="#000" stroke-width="3.4" stroke-linecap="butt" stroke-linejoin="miter"/>
<text x="1685.0" y="1812.0" font-family="Liberation Sans" font-size="32" font-weight="normal" font-style="normal" fill="#000" textLength="20.0" lengthAdjust="spacingAndGlyphs">0</text>
<text x="2069.5" y="1812.0" font-family="Liberation Sans" font-size="32" font-weight="normal" font-style="normal" fill="#000" textLength="92.5" lengthAdjust="spacingAndGlyphs">50 km</text>
<path d="M2192,1783 L2216.5,1854 L2192,1838.5 L2167.5,1854 Z" fill="#000"/>
<text x="2183.5" y="1771.0" font-family="Liberation Serif" font-size="26" font-weight="normal" font-style="normal" fill="#000">N</text>
<rect x="270.5" y="1932.5" width="865" height="294" fill="#efefef" stroke="#b2b2b2" stroke-width="3"/>
<text x="323.0" y="1991.0" font-family="Liberation Sans" font-size="43" font-weight="bold" font-style="normal" fill="#000" textLength="573.0" lengthAdjust="spacingAndGlyphs">Population Density (per km²)</text>
<text x="347.8" y="2050.3" font-family="Liberation Sans" font-size="26.5" font-weight="normal" font-style="normal" fill="#000" textLength="59.2" lengthAdjust="spacingAndGlyphs" stroke="#efefef" stroke-width="0.45">&lt; 25</text>
<rect x="325" y="2060" width="105" height="51" fill="#ffff80"/>
<text x="464.0" y="2050.3" font-family="Liberation Sans" font-size="26.5" font-weight="normal" font-style="normal" fill="#000" textLength="90.0" lengthAdjust="spacingAndGlyphs" stroke="#efefef" stroke-width="0.45">26-100</text>
<rect x="458" y="2060" width="105" height="51" fill="#fcd962"/>
<text x="590.8" y="2050.3" font-family="Liberation Sans" font-size="26.5" font-weight="normal" font-style="normal" fill="#000" textLength="104.0" lengthAdjust="spacingAndGlyphs" stroke="#efefef" stroke-width="0.45">101-250</text>
<rect x="592" y="2060" width="105" height="51" fill="#f5b742"/>
<text x="722.7" y="2050.3" font-family="Liberation Sans" font-size="26.5" font-weight="normal" font-style="normal" fill="#000" textLength="104.8" lengthAdjust="spacingAndGlyphs" stroke="#efefef" stroke-width="0.45">251-500</text>
<rect x="725" y="2060" width="105" height="51" fill="#d8862a"/>
<text x="848.0" y="2050.3" font-family="Liberation Sans" font-size="26.5" font-weight="normal" font-style="normal" fill="#000" textLength="120.4" lengthAdjust="spacingAndGlyphs" stroke="#efefef" stroke-width="0.45">501-1000</text>
<rect x="858" y="2060" width="105" height="51" fill="#9e4414"/>
<text x="1002.0" y="2050.3" font-family="Liberation Sans" font-size="26.5" font-weight="normal" font-style="normal" fill="#000" textLength="81.6" lengthAdjust="spacingAndGlyphs" stroke="#efefef" stroke-width="0.45">&gt;1000</text>
<rect x="991" y="2060" width="105" height="51" fill="#6b0605"/>
<rect x="326" y="2140" width="103" height="50" fill="none" stroke="#000" stroke-width="4"/>
<text x="452.0" y="2180.0" font-family="Liberation Sans" font-size="32" font-weight="normal" font-style="normal" fill="#000" textLength="243.0" lengthAdjust="spacing" stroke="#efefef" stroke-width="0.7">Urban Extents</text>
<rect x="784" y="2139" width="104" height="52" fill="#bee8ff"/>
<text x="903.0" y="2180.0" font-family="Liberation Sans" font-size="32" font-weight="normal" font-style="normal" fill="#000" textLength="199.0" lengthAdjust="spacing" stroke="#efefef" stroke-width="0.7">Waterbody</text>
<rect x="2073.5" y="1932.5" width="863" height="294" fill="#efefef" stroke="#b2b2b2" stroke-width="3"/>
<text x="2122.0" y="1995.0" font-family="Liberation Sans" font-size="42" font-weight="bold" font-style="normal" fill="#000" textLength="569.0" lengthAdjust="spacingAndGlyphs">Low Elevation Coastal Zones</text>
<text x="2126.0" y="2054.0" font-family="Liberation Sans" font-size="29" font-weight="bold" font-style="normal" fill="#000" textLength="109.0" lengthAdjust="spacing">0 - 3m</text>
<text x="2350.0" y="2056.0" font-family="Liberation Sans" font-size="29" font-weight="bold" font-style="normal" fill="#000" textLength="109.0" lengthAdjust="spacing">4 - 7m</text>
<text x="2563.0" y="2054.0" font-family="Liberation Sans" font-size="29" font-weight="bold" font-style="normal" fill="#000" textLength="130.0" lengthAdjust="spacing">8 - 10m</text>
<text x="2801.0" y="2054.0" font-family="Liberation Sans" font-size="29" font-weight="bold" font-style="normal" fill="#000" textLength="101.0" lengthAdjust="spacing">&gt; 10m</text>
<rect x="2127" y="2069" width="105" height="52" fill="#740d0c"/>
<rect x="2351" y="2070" width="105" height="52" fill="#e6855d"/>
<rect x="2575" y="2068" width="105" height="52" fill="#fefdc0"/>
<rect x="2798" y="2067" width="105" height="52" fill="#2e741f"/>
<rect x="2127" y="2140" width="103" height="49" fill="none" stroke="#000" stroke-width="4"/>
<text x="2253.0" y="2180.0" font-family="Liberation Sans" font-size="32" font-weight="normal" font-style="normal" fill="#000" textLength="244.0" lengthAdjust="spacing" stroke="#efefef" stroke-width="0.7">Urban Extents</text>
<rect x="2575" y="2139" width="105" height="51" fill="#bee8ff"/>
<text x="2706.0" y="2180.0" font-family="Liberation Sans" font-size="32" font-weight="normal" font-style="normal" fill="#000" textLength="199.0" lengthAdjust="spacing" stroke="#efefef" stroke-width="0.7">Waterbody</text>
<rect x="1393.5" y="1928.5" width="429" height="450" fill="#fff" stroke="#dedede" stroke-width="4"/>
<text x="1334.0" y="1912.6" font-family="Liberation Sans" font-size="26.5" font-weight="normal" font-style="normal" fill="#000" textLength="546.0" lengthAdjust="spacingAndGlyphs" stroke="#fff" stroke-width="0.5">Lambert Azimuthal Equal Area Projection</text>
<polygon points="1505.3,1983.6 1510.7,1959.4 1532.2,1935.1 1537.6,1929.7 1820.8,1929.7 1820.8,2048.4 1807.3,2034.9 1775.0,2032.2 1742.6,2016.0 1726.4,2013.3 1710.2,1997.1 1688.7,1991.7 1672.5,1994.4 1661.7,1989.0 1645.5,1994.4 1629.3,1986.3 1607.7,1989.0 1586.2,1980.9 1570.0,1972.8 1548.4,1980.9 1526.8,1980.9" fill="#f9f9f9" stroke="#e2e2e2" stroke-width="1.6"/>
<polygon points="1672.5,2016.0 1688.7,2013.3 1726.4,2016.0 1742.6,2029.5 1764.2,2029.5 1775.0,2040.3 1775.0,2056.4 1764.2,2069.9 1742.6,2083.4 1723.7,2091.5 1715.6,2094.2 1704.8,2078.0 1691.4,2056.4 1677.9,2034.9" fill="#f9f9f9" stroke="#e2e2e2" stroke-width="1.6"/>
<polygon points="1642.8,1956.7 1656.3,1948.6 1672.5,1947.2 1688.7,1956.7 1686.0,1967.5 1669.8,1970.1 1650.9,1967.5" fill="#fff" stroke="#e2e2e2" stroke-width="1.6"/>
<polygon points="1707.5,1943.2 1715.6,1939.1 1726.4,1945.9 1729.1,1959.4 1734.5,1972.8 1731.8,1983.6 1723.7,1980.9 1718.3,1964.8 1710.2,1954.0" fill="#fff" stroke="#e2e2e2" stroke-width="1.6"/>
<polygon points="1672.5,2016.0 1677.9,2016.0 1710.2,2078.0 1715.6,2094.2 1712.9,2095.6 1702.1,2078.0" fill="#fff" stroke="#e2e2e2" stroke-width="1.6"/>
<polygon points="1514.7,1993.1 1526.8,1991.7 1543.0,1989.6 1564.6,1989.0 1570.0,1987.9 1578.1,1989.6 1577.5,1997.7 1572.2,2006.8 1575.4,2009.3 1591.6,2007.9 1605.1,2014.6 1613.1,2007.9 1632.0,2010.6 1650.9,2013.3 1669.8,2014.6 1672.5,2024.1 1677.9,2040.3 1686.0,2056.4 1691.4,2069.9 1696.7,2078.0 1704.8,2088.8 1712.9,2096.9 1723.7,2102.3 1739.9,2099.6 1749.3,2098.3 1745.3,2113.1 1737.2,2126.6 1726.4,2140.1 1715.6,2153.5 1704.8,2164.3 1699.4,2175.1 1700.8,2191.3 1702.1,2199.4 1703.5,2218.3 1702.1,2226.4 1683.3,2242.5 1677.9,2247.9 1677.9,2258.7 1672.5,2266.8 1661.7,2272.2 1656.3,2285.7 1642.8,2299.2 1629.3,2301.9 1613.1,2304.6 1605.1,2296.5 1599.7,2277.6 1591.6,2256.0 1583.5,2237.1 1578.1,2226.4 1578.1,2210.2 1580.8,2194.0 1578.1,2177.8 1575.4,2167.0 1567.3,2158.9 1561.9,2148.1 1559.2,2137.4 1548.4,2132.0 1537.6,2123.9 1521.4,2129.3 1510.7,2126.6 1499.9,2127.9 1489.1,2132.0 1478.3,2121.2 1470.2,2113.1 1459.4,2102.3 1452.7,2094.2 1450.0,2083.4 1456.7,2072.6 1458.1,2053.8 1467.5,2040.3 1475.6,2029.5 1489.1,2021.4 1497.2,2007.9 1505.3,1997.1" fill="#efefef" stroke="#a6a6a6" stroke-width="1.9" stroke-linejoin="round"/>
<polygon points="1710.2,2266.8 1712.9,2247.9 1723.7,2226.4 1734.5,2215.6 1739.9,2208.8 1743.9,2221.0 1737.2,2239.8 1729.1,2258.7 1721.0,2268.2" fill="#efefef" stroke="#a6a6a6" stroke-width="1.9"/>
<polyline points="1526.8,1991.7 1528.2,2006.6 1497.2,2020.0 1494.5,2033.5 1475.6,2034.9 1472.9,2045.7 1458.1,2053.8" fill="none" stroke="#a6a6a6" stroke-width="1.5"/>
<polyline points="1502.6,2040.3 1502.6,2082.1 1472.9,2082.1" fill="none" stroke="#a6a6a6" stroke-width="1.5"/>
<polyline points="1497.2,2020.0 1543.0,2065.9" fill="none" stroke="#a6a6a6" stroke-width="1.5"/>
<polyline points="1543.0,2065.9 1591.6,2049.7" fill="none" stroke="#a6a6a6" stroke-width="1.5"/>
<polyline points="1570.0,2007.9 1568.6,2037.6 1591.6,2049.7" fill="none" stroke="#a6a6a6" stroke-width="1.5"/>
<polyline points="1591.6,2049.7 1592.9,2067.2 1586.2,2091.5" fill="none" stroke="#a6a6a6" stroke-width="1.5"/>
<polyline points="1632.0,2010.6 1633.4,2064.5" fill="none" stroke="#a6a6a6" stroke-width="1.5"/>
<polyline points="1633.4,2053.8 1683.3,2053.8" fill="none" stroke="#a6a6a6" stroke-width="1.5"/>
<polyline points="1592.9,2051.1 1629.3,2064.5 1633.4,2064.5" fill="none" stroke="#a6a6a6" stroke-width="1.5"/>
<polyline points="1629.3,2064.5 1623.9,2088.8 1629.3,2102.3 1621.2,2115.8" fill="none" stroke="#a6a6a6" stroke-width="1.5"/>
<polyline points="1543.0,2065.9 1543.0,2094.2 1586.2,2092.9" fill="none" stroke="#a6a6a6" stroke-width="1.5"/>
<polyline points="1472.9,2082.1 1472.9,2102.3" fill="none" stroke="#a6a6a6" stroke-width="1.5"/>
<polyline points="1502.6,2099.6 1537.6,2088.8 1543.0,2094.2" fill="none" stroke="#a6a6a6" stroke-width="1.5"/>
<polyline points="1510.7,2105.0 1510.7,2129.3" fill="none" stroke="#a6a6a6" stroke-width="1.5"/>
<polyline points="1524.1,2099.6 1524.1,2129.3" fill="none" stroke="#a6a6a6" stroke-width="1.5"/>
<polyline points="1586.2,2092.9 1586.2,2115.8 1591.6,2134.7" fill="none" stroke="#a6a6a6" stroke-width="1.5"/>
<polyline points="1621.2,2115.8 1642.8,2129.3 1675.2,2132.0" fill="none" stroke="#a6a6a6" stroke-width="1.5"/>
<polyline points="1675.2,2132.0 1672.5,2105.0 1688.7,2086.1" fill="none" stroke="#a6a6a6" stroke-width="1.5"/>
<polyline points="1688.7,2086.1 1712.9,2096.9" fill="none" stroke="#a6a6a6" stroke-width="1.5"/>
<polyline points="1672.5,2115.8 1707.5,2137.4 1731.8,2115.8" fill="none" stroke="#a6a6a6" stroke-width="1.5"/>
<polyline points="1607.7,2132.0 1605.1,2180.5 1626.6,2202.1 1648.2,2196.7" fill="none" stroke="#a6a6a6" stroke-width="1.5"/>
<polyline points="1650.9,2132.0 1661.7,2142.7 1653.6,2169.7 1659.0,2191.3" fill="none" stroke="#a6a6a6" stroke-width="1.5"/>
<polyline points="1677.9,2134.7 1677.9,2158.9 1699.4,2172.4" fill="none" stroke="#a6a6a6" stroke-width="1.5"/>
<polyline points="1659.0,2191.3 1669.8,2199.4 1699.4,2202.1" fill="none" stroke="#a6a6a6" stroke-width="1.5"/>
<polyline points="1580.8,2177.8 1597.0,2177.8 1621.2,2196.7 1621.2,2229.0" fill="none" stroke="#a6a6a6" stroke-width="1.5"/>
<polyline points="1578.1,2229.0 1615.8,2231.7 1642.8,2229.0" fill="none" stroke="#a6a6a6" stroke-width="1.5"/>
<polyline points="1615.8,2231.7 1613.1,2272.2" fill="none" stroke="#a6a6a6" stroke-width="1.5"/>
<polyline points="1637.4,2234.4 1661.7,2256.0" fill="none" stroke="#a6a6a6" stroke-width="1.5"/>
<polyline points="1613.1,2272.2 1634.7,2258.7 1661.7,2256.0" fill="none" stroke="#a6a6a6" stroke-width="1.5"/>
<polyline points="1661.7,2223.7 1667.1,2237.1 1661.7,2256.0" fill="none" stroke="#a6a6a6" stroke-width="1.5"/>
<polyline points="1642.8,2229.0 1659.0,2221.0 1672.5,2223.7" fill="none" stroke="#a6a6a6" stroke-width="1.5"/>
<polyline points="1564.6,2132.0 1567.3,2148.1 1575.4,2158.9" fill="none" stroke="#a6a6a6" stroke-width="1.5"/>
<polyline points="1543.0,2094.2 1548.4,2115.8 1564.6,2132.0" fill="none" stroke="#a6a6a6" stroke-width="1.5"/>
<polyline points="1704.8,2137.4 1704.8,2164.3" fill="none" stroke="#a6a6a6" stroke-width="1.5"/>
<polyline points="1478.3,2121.2 1486.4,2113.1 1499.9,2113.1 1499.9,2127.9" fill="none" stroke="#a6a6a6" stroke-width="1.5"/>
<polyline points="1459.4,2102.3 1472.9,2102.3 1486.4,2113.1" fill="none" stroke="#a6a6a6" stroke-width="1.5"/>
<polygon points="1475.6,2114.4 1479.6,2112.5 1481.0,2117.1 1485.0,2121.7 1489.1,2126.6 1488.5,2129.8 1483.7,2128.7 1478.3,2122.5 1474.3,2118.5" fill="#f8d58a" stroke="#a9a9a9" stroke-width="0.8"/>
<circle cx="1421.7" cy="2071.3" r="1.9" fill="#b0b0b0"/>
<circle cx="1426.5" cy="2074.0" r="1.6" fill="#b0b0b0"/>
<circle cx="1423.8" cy="2081.3" r="1.9" fill="#b0b0b0"/>
<circle cx="1432.5" cy="1962.1" r="1.3" fill="#b0b0b0"/>
<circle cx="1440.5" cy="1968.8" r="1.6" fill="#b0b0b0"/>
<circle cx="1447.3" cy="1975.5" r="1.9" fill="#b0b0b0"/>
<circle cx="1470.2" cy="1999.8" r="1.3" fill="#b0b0b0"/>
<circle cx="1553.8" cy="2315.3" r="1.0" fill="#b0b0b0"/>
<circle cx="1769.6" cy="2247.9" r="1.3" fill="#b0b0b0"/>
<circle cx="1793.8" cy="2247.9" r="1.3" fill="#b0b0b0"/>
<circle cx="1718.3" cy="2204.8" r="1.3" fill="#b0b0b0"/>
<circle cx="1605.1" cy="2169.7" r="1.0" fill="#b0b0b0"/>
<circle cx="1601.0" cy="2176.5" r="0.6" fill="#b0b0b0"/>
<circle cx="1460.8" cy="2189.9" r="1.0" fill="#b0b0b0"/>
<circle cx="1499.9" cy="2225.0" r="1.0" fill="#b0b0b0"/>
<circle cx="1408.2" cy="2252.0" r="0.6" fill="#b0b0b0"/>
<rect x="1468.6" y="2107.9" width="29.2" height="27.0" fill="none" stroke="#ff0000" stroke-width="3.4"/>
<rect x="33" y="2311" width="246" height="87.5" fill="#000"/>
<rect x="36.5" y="2314" width="239" height="58" rx="3" fill="#abb1aa"/>
<circle cx="75.8" cy="2352" r="38.5" fill="#abb1aa"/>
<circle cx="75.8" cy="2352" r="31.4" fill="#000"/>
<circle cx="75.8" cy="2352" r="26.2" fill="#fff"/>
<text x="57.5" y="2362.0" font-family="Liberation Sans" font-size="34" font-weight="bold" font-style="normal" fill="#000" textLength="36.0" lengthAdjust="spacingAndGlyphs" letter-spacing="-1">cc</text>
<circle cx="189.3" cy="2342.2" r="23.3" fill="#000"/>
<circle cx="189.3" cy="2342.2" r="19.2" fill="#fff"/>
<circle cx="189.3" cy="2330.3" r="3.1" fill="#000"/>
<path d="M183.1,2335 h12.4 v11 h-3 v11.8 h-6.4 v-11.8 h-3 z" fill="#000"/>
<text x="177.8" y="2392.6" font-family="Liberation Sans" font-size="19" font-weight="bold" font-style="normal" fill="#fff" textLength="24.2" lengthAdjust="spacingAndGlyphs">BY</text>
<rect x="1208" y="2392" width="225" height="79" rx="5" fill="#000"/>
<rect x="1211" y="2395" width="219" height="54" rx="3" fill="#abb1aa"/>
<defs><radialGradient id="glw"><stop offset="0.72" stop-color="#fff" stop-opacity="1"/><stop offset="1" stop-color="#fff" stop-opacity="0"/></radialGradient></defs>
<defs><clipPath id="ccin"><rect x="1211" y="2395" width="219" height="73" rx="3"/></clipPath></defs>
<g clip-path="url(#ccin)"><circle cx="1245.6" cy="2430" r="40" fill="url(#glw)"/>
<circle cx="1350.4" cy="2419" r="26" fill="url(#glw)"/></g>
<circle cx="1245.6" cy="2430" r="31" fill="#000"/>
<circle cx="1245.6" cy="2430" r="25.6" fill="#fff"/>
<text x="1228.5" y="2440.0" font-family="Liberation Sans" font-size="32" font-weight="bold" font-style="normal" fill="#000" textLength="35.0" lengthAdjust="spacingAndGlyphs" letter-spacing="-1">cc</text>
<circle cx="1350.4" cy="2419.3" r="20.1" fill="#000"/>
<circle cx="1350.4" cy="2419.3" r="16.6" fill="#fff"/>
<circle cx="1351.2" cy="2409.8" r="2.6" fill="#000"/>
<path d="M1347,2418 q0,-3 4.3,-3 q4.4,0 4.4,3 v7.3 h-2.2 v6.7 h-4.4 v-6.7 h-2.1 z" fill="#000"/>
<text x="1338.0" y="2465.5" font-family="Liberation Sans" font-size="16" font-weight="bold" font-style="normal" fill="#fff" textLength="25.0" lengthAdjust="spacing">BY</text>
<text x="287.0" y="2332.0" font-family="Liberation Sans" font-size="25.5" font-weight="normal" font-style="normal" fill="#000" textLength="425.5" lengthAdjust="spacingAndGlyphs">This document is licensed under a</text>
<text x="285.0" y="2362.0" font-family="Liberation Sans" font-size="25.5" font-weight="normal" font-style="normal" fill="#000" textLength="534.0" lengthAdjust="spacingAndGlyphs">Creative Commons 3.0 Attribution License</text>
<text x="287.0" y="2392.0" font-family="Liberation Sans" font-size="25.5" font-weight="normal" font-style="normal" fill="#1414ff" textLength="567.6" lengthAdjust="spacingAndGlyphs">http://creativecommons.org/licenses/by/3.0/</text>
<text x="1450.5" y="2412.0" font-family="Liberation Sans" font-size="23.5" font-weight="normal" font-style="normal" fill="#000" textLength="377.5" lengthAdjust="spacingAndGlyphs">This document is licensed under a</text>
<text x="1450.5" y="2442.0" font-family="Liberation Sans" font-size="23.5" font-weight="normal" font-style="normal" fill="#000" textLength="466.5" lengthAdjust="spacingAndGlyphs">Creative Commons 3.0 Attribution License</text>
<text x="1450.5" y="2470.0" font-family="Liberation Sans" font-size="23.5" font-weight="normal" font-style="normal" fill="#1414ff" textLength="479.5" lengthAdjust="spacingAndGlyphs">http://creativecommons.org/licenses/by/3.0/</text>
<text x="2047.0" y="2332.0" font-family="Liberation Sans" font-size="25" font-weight="normal" font-style="normal" fill="#000" textLength="974.0" lengthAdjust="spacingAndGlyphs">Copyright 2009. The Trustees of Columbia University in the City of New York.</text>
<text x="2047.0" y="2361.5" font-family="Liberation Sans" font-size="25" font-weight="normal" font-style="normal" fill="#000" textLength="988.0" lengthAdjust="spacingAndGlyphs">Source: Center for International Earth Science Information Network (CIESIN).</text>
<text x="2047.0" y="2392.6" font-family="Liberation Sans" font-size="25" font-weight="normal" font-style="normal" fill="#000" textLength="354.0" lengthAdjust="spacingAndGlyphs">Low Elevation Coastal Zone.</text>
<text x="2408.0" y="2392.6" font-family="Liberation Sans" font-size="25" font-weight="normal" font-style="normal" fill="#1414ff" textLength="585.0" lengthAdjust="spacingAndGlyphs">http://sedac.ciesin.columbia.edu/gpw/lecz.jsp</text>
<defs><linearGradient id="cg" x1="0" y1="0" x2="1" y2="1"><stop offset="0" stop-color="#1479a0"/><stop offset="0.5" stop-color="#2196ba"/><stop offset="1" stop-color="#1a86aa"/></linearGradient></defs>
<rect x="3054" y="2308" width="128" height="58" fill="url(#cg)"/>
<polygon points="3061.1,2320.4 3064.0,2316.8 3069.0,2316.1 3080.7,2316.8 3086.5,2319.0 3092.3,2324.0 3093.7,2327.7 3087.2,2331.3 3080.7,2335.7 3076.3,2337.1 3071.2,2334.2 3069.0,2326.9 3064.0,2322.6" fill="#fff"/>
<polygon points="3099.5,2315.3 3105.3,2313.1 3111.1,2313.9 3109.7,2319.0 3105.3,2322.6 3101.0,2324.0 3099.5,2319.7" fill="#fff"/>
<polygon points="3086.5,2340.0 3092.3,2340.0 3100.3,2342.9 3101.0,2345.8 3098.1,2350.2 3097.4,2354.5 3095.2,2352.4 3090.8,2345.8 3087.2,2342.9" fill="#fff"/>
<polygon points="3115.5,2325.5 3119.9,2322.6 3127.1,2319.0 3134.4,2317.5 3147.4,2316.8 3156.2,2318.2 3167.8,2319.0 3172.8,2321.1 3172.1,2326.2 3167.8,2331.3 3165.6,2335.7 3161.2,2338.6 3156.2,2341.5 3153.2,2340.0 3147.4,2338.6 3140.2,2338.6 3134.4,2335.7 3127.1,2334.2 3119.9,2331.3 3114.0,2332.0 3111.1,2328.4" fill="#fff"/>
<polygon points="3107.5,2335.7 3114.0,2334.2 3121.3,2335.7 3127.1,2338.6 3130.0,2342.9 3127.1,2348.0 3124.2,2350.2 3119.9,2350.9 3118.4,2345.8 3114.0,2342.2 3108.2,2340.0" fill="#fff"/>
<polygon points="3156.9,2350.2 3162.0,2349.4 3166.3,2350.9 3167.8,2353.8 3164.9,2354.5 3159.8,2353.1" fill="#fff"/>
<polygon points="3054.2,2366.1 3080.7,2366.1 3090.8,2362.5 3098.1,2358.9 3100.3,2356.7 3100.3,2362.5 3103.9,2365.4 3112.6,2364.0 3123.5,2361.8 3134.4,2361.1 3145.3,2362.5 3152.5,2364.0 3163.4,2364.3 3170.7,2364.7 3181.9,2365.8 3181.9,2366.9 3054.2,2366.9" fill="#fff"/>
<text x="3054.0" y="2384.5" font-family="Liberation Serif" font-size="22.5" font-weight="bold" font-style="normal" fill="#000" textLength="127.0" lengthAdjust="spacingAndGlyphs">CIESIN</text>
<text x="3055.0" y="2393.0" font-family="Liberation Serif" font-size="8.5" font-weight="normal" font-style="italic" fill="#000" textLength="123.0" lengthAdjust="spacingAndGlyphs">Columbia University</text>
</svg></body></html>
